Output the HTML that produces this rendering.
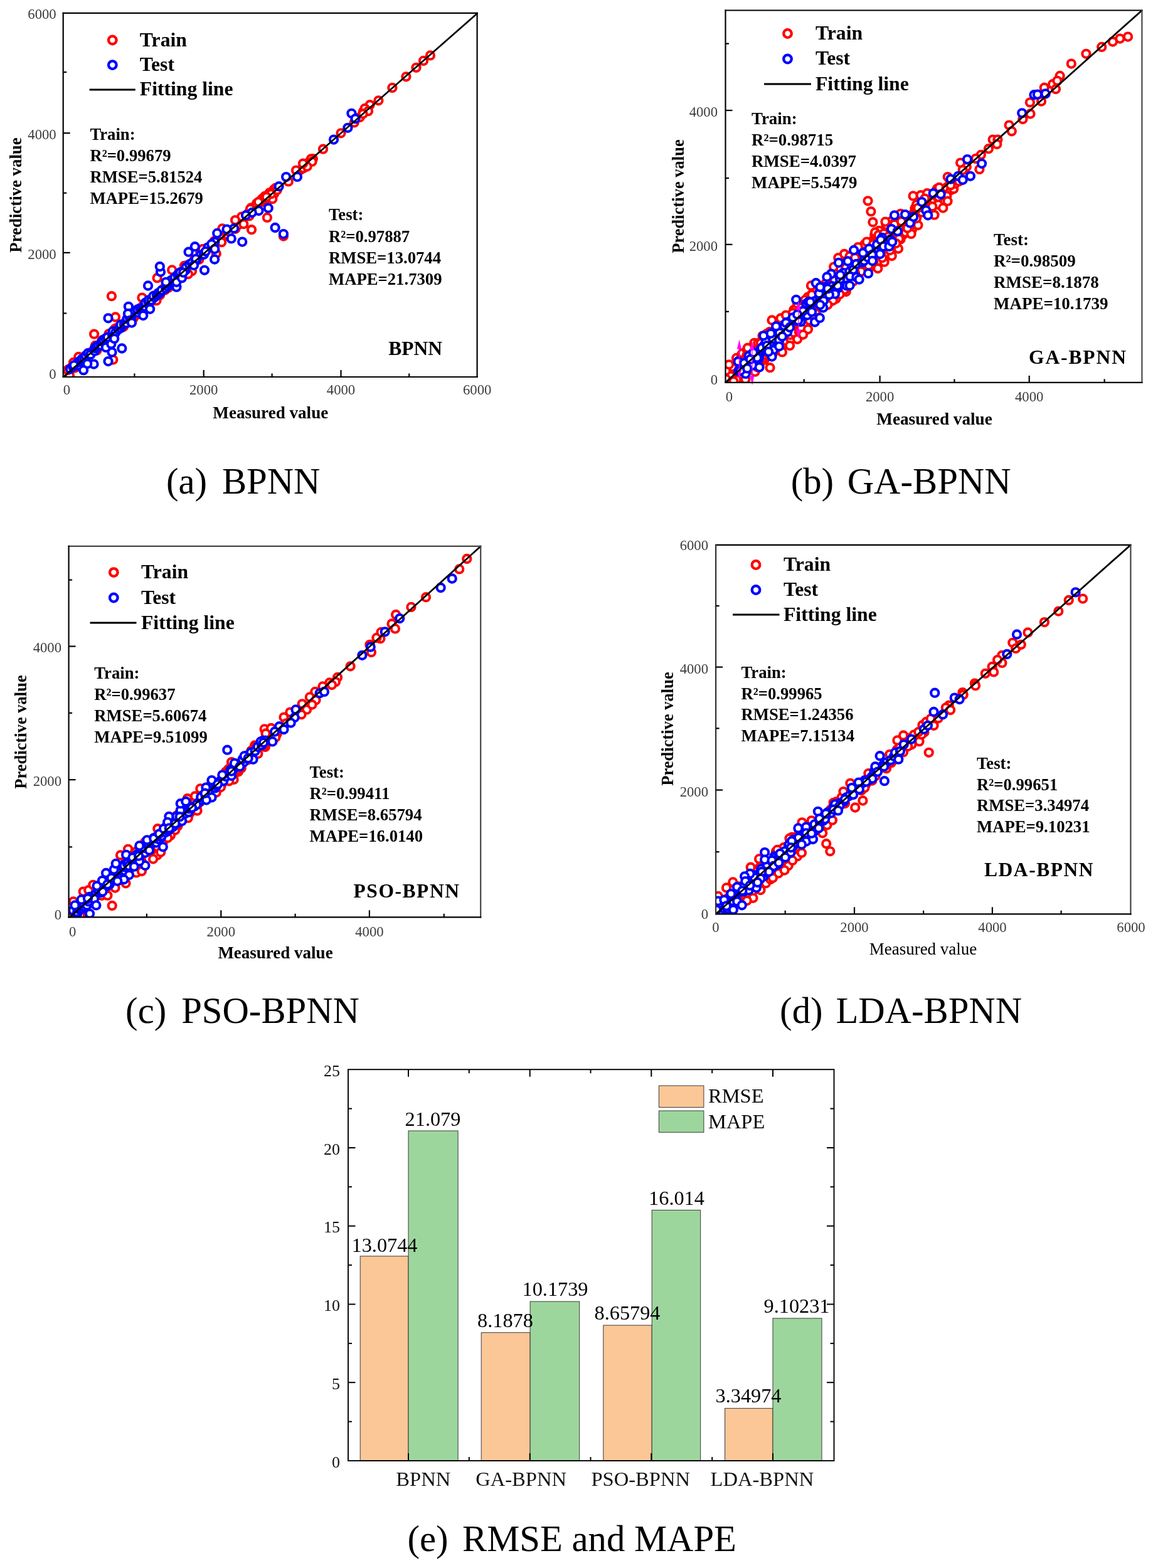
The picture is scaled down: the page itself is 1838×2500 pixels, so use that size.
<!DOCTYPE html>
<html lang="en">
<head>
<meta charset="utf-8">
<title>Prediction results of BPNN, GA-BPNN, PSO-BPNN and LDA-BPNN</title>
<style>
html,body{margin:0;padding:0;background:#fff;}
body{width:1838px;height:2500px;overflow:hidden;}
svg{display:block;}
text{white-space:pre;}
.bs{font-family:"Liberation Serif", "DejaVu Serif", serif;font-weight:bold;}
.rs{font-family:"Liberation Serif", "DejaVu Serif", serif;font-weight:normal;}
.ba{font-family:"Liberation Sans", "DejaVu Sans", sans-serif;font-weight:bold;}
.ra{font-family:"Liberation Sans", "DejaVu Sans", sans-serif;font-weight:normal;}
</style>
</head>
<body>
<svg width="1838" height="2500" viewBox="0 0 1838 2500">
<defs><filter id="soft" x="-5%" y="-5%" width="110%" height="110%"><feGaussianBlur stdDeviation="0.6"/></filter><filter id="soft2" x="-5%" y="-5%" width="110%" height="110%"><feGaussianBlur stdDeviation="0.45"/></filter></defs>
<rect x="0" y="0" width="1838" height="2500" fill="#ffffff"/>
<g id="panel-a">
<clipPath id="clip-a"><rect x="100.7" y="20.8" width="659.9" height="580.2"/></clipPath>
<g clip-path="url(#clip-a)"><g fill="#fff" stroke-width="4.1" filter="url(#soft)">
<circle cx="398.0" cy="342.6" r="6.1" stroke="#ff0000"/>
<circle cx="396.9" cy="338.6" r="6.1" stroke="#ff0000"/>
<circle cx="402.8" cy="335.5" r="6.1" stroke="#ff0000"/>
<circle cx="407.7" cy="329.9" r="6.1" stroke="#ff0000"/>
<circle cx="410.5" cy="331.9" r="6.1" stroke="#ff0000"/>
<circle cx="413.4" cy="323.5" r="6.1" stroke="#ff0000"/>
<circle cx="415.7" cy="322.0" r="6.1" stroke="#ff0000"/>
<circle cx="424.2" cy="317.1" r="6.1" stroke="#ff0000"/>
<circle cx="430.1" cy="313.6" r="6.1" stroke="#ff0000"/>
<circle cx="427.3" cy="310.7" r="6.1" stroke="#ff0000"/>
<circle cx="437.1" cy="309.1" r="6.1" stroke="#ff0000"/>
<circle cx="436.7" cy="302.1" r="6.1" stroke="#ff0000"/>
<circle cx="478.8" cy="270.9" r="6.1" stroke="#ff0000"/>
<circle cx="483.6" cy="268.2" r="6.1" stroke="#ff0000"/>
<circle cx="488.2" cy="260.8" r="6.1" stroke="#ff0000"/>
<circle cx="492.8" cy="258.4" r="6.1" stroke="#ff0000"/>
<circle cx="498.9" cy="253.2" r="6.1" stroke="#ff0000"/>
<circle cx="573.7" cy="186.9" r="6.1" stroke="#ff0000"/>
<circle cx="578.9" cy="177.9" r="6.1" stroke="#ff0000"/>
<circle cx="583.0" cy="175.9" r="6.1" stroke="#ff0000"/>
<circle cx="589.7" cy="167.2" r="6.1" stroke="#ff0000"/>
<circle cx="107.2" cy="599.3" r="6.1" stroke="#ff0000"/>
<circle cx="108.8" cy="591.5" r="6.1" stroke="#ff0000"/>
<circle cx="109.3" cy="588.8" r="6.1" stroke="#ff0000"/>
<circle cx="114.0" cy="585.8" r="6.1" stroke="#ff0000"/>
<circle cx="119.4" cy="586.6" r="6.1" stroke="#ff0000"/>
<circle cx="120.5" cy="579.5" r="6.1" stroke="#ff0000"/>
<circle cx="124.4" cy="580.1" r="6.1" stroke="#ff0000"/>
<circle cx="128.3" cy="581.7" r="6.1" stroke="#ff0000"/>
<circle cx="128.0" cy="573.8" r="6.1" stroke="#ff0000"/>
<circle cx="134.9" cy="574.4" r="6.1" stroke="#ff0000"/>
<circle cx="135.7" cy="568.1" r="6.1" stroke="#ff0000"/>
<circle cx="139.4" cy="568.3" r="6.1" stroke="#ff0000"/>
<circle cx="143.2" cy="563.5" r="6.1" stroke="#ff0000"/>
<circle cx="144.4" cy="562.4" r="6.1" stroke="#ff0000"/>
<circle cx="145.9" cy="561.3" r="6.1" stroke="#ff0000"/>
<circle cx="154.3" cy="558.7" r="6.1" stroke="#ff0000"/>
<circle cx="151.9" cy="550.9" r="6.1" stroke="#ff0000"/>
<circle cx="156.1" cy="553.5" r="6.1" stroke="#ff0000"/>
<circle cx="162.2" cy="547.0" r="6.1" stroke="#ff0000"/>
<circle cx="161.7" cy="544.5" r="6.1" stroke="#ff0000"/>
<circle cx="162.9" cy="542.5" r="6.1" stroke="#ff0000"/>
<circle cx="171.0" cy="539.1" r="6.1" stroke="#ff0000"/>
<circle cx="171.4" cy="538.0" r="6.1" stroke="#ff0000"/>
<circle cx="176.4" cy="536.9" r="6.1" stroke="#ff0000"/>
<circle cx="173.4" cy="532.3" r="6.1" stroke="#ff0000"/>
<circle cx="180.9" cy="527.4" r="6.1" stroke="#ff0000"/>
<circle cx="183.0" cy="524.5" r="6.1" stroke="#ff0000"/>
<circle cx="185.5" cy="523.2" r="6.1" stroke="#ff0000"/>
<circle cx="189.3" cy="522.4" r="6.1" stroke="#ff0000"/>
<circle cx="197.0" cy="521.1" r="6.1" stroke="#ff0000"/>
<circle cx="194.3" cy="518.0" r="6.1" stroke="#ff0000"/>
<circle cx="198.9" cy="514.6" r="6.1" stroke="#ff0000"/>
<circle cx="202.1" cy="513.4" r="6.1" stroke="#ff0000"/>
<circle cx="205.4" cy="508.6" r="6.1" stroke="#ff0000"/>
<circle cx="207.2" cy="506.2" r="6.1" stroke="#ff0000"/>
<circle cx="212.3" cy="508.0" r="6.1" stroke="#ff0000"/>
<circle cx="216.1" cy="503.0" r="6.1" stroke="#ff0000"/>
<circle cx="216.4" cy="495.4" r="6.1" stroke="#ff0000"/>
<circle cx="219.9" cy="493.1" r="6.1" stroke="#ff0000"/>
<circle cx="225.8" cy="493.6" r="6.1" stroke="#ff0000"/>
<circle cx="223.2" cy="491.5" r="6.1" stroke="#ff0000"/>
<circle cx="229.4" cy="493.0" r="6.1" stroke="#ff0000"/>
<circle cx="229.5" cy="485.0" r="6.1" stroke="#ff0000"/>
<circle cx="237.6" cy="484.8" r="6.1" stroke="#ff0000"/>
<circle cx="236.9" cy="482.9" r="6.1" stroke="#ff0000"/>
<circle cx="242.9" cy="479.6" r="6.1" stroke="#ff0000"/>
<circle cx="244.7" cy="477.9" r="6.1" stroke="#ff0000"/>
<circle cx="245.7" cy="471.3" r="6.1" stroke="#ff0000"/>
<circle cx="250.8" cy="470.9" r="6.1" stroke="#ff0000"/>
<circle cx="255.0" cy="470.4" r="6.1" stroke="#ff0000"/>
<circle cx="255.0" cy="466.2" r="6.1" stroke="#ff0000"/>
<circle cx="262.9" cy="462.6" r="6.1" stroke="#ff0000"/>
<circle cx="260.6" cy="460.3" r="6.1" stroke="#ff0000"/>
<circle cx="265.9" cy="454.7" r="6.1" stroke="#ff0000"/>
<circle cx="268.4" cy="458.7" r="6.1" stroke="#ff0000"/>
<circle cx="273.9" cy="452.6" r="6.1" stroke="#ff0000"/>
<circle cx="276.7" cy="449.9" r="6.1" stroke="#ff0000"/>
<circle cx="276.3" cy="444.8" r="6.1" stroke="#ff0000"/>
<circle cx="283.6" cy="443.2" r="6.1" stroke="#ff0000"/>
<circle cx="281.5" cy="438.9" r="6.1" stroke="#ff0000"/>
<circle cx="288.1" cy="439.2" r="6.1" stroke="#ff0000"/>
<circle cx="289.9" cy="435.8" r="6.1" stroke="#ff0000"/>
<circle cx="293.5" cy="433.4" r="6.1" stroke="#ff0000"/>
<circle cx="296.4" cy="433.7" r="6.1" stroke="#ff0000"/>
<circle cx="297.2" cy="423.3" r="6.1" stroke="#ff0000"/>
<circle cx="302.9" cy="425.8" r="6.1" stroke="#ff0000"/>
<circle cx="309.2" cy="420.2" r="6.1" stroke="#ff0000"/>
<circle cx="310.0" cy="413.8" r="6.1" stroke="#ff0000"/>
<circle cx="317.4" cy="413.8" r="6.1" stroke="#ff0000"/>
<circle cx="319.4" cy="403.7" r="6.1" stroke="#ff0000"/>
<circle cx="330.0" cy="395.2" r="6.1" stroke="#ff0000"/>
<circle cx="334.1" cy="394.9" r="6.1" stroke="#ff0000"/>
<circle cx="341.7" cy="384.3" r="6.1" stroke="#ff0000"/>
<circle cx="346.7" cy="382.0" r="6.1" stroke="#ff0000"/>
<circle cx="354.1" cy="379.9" r="6.1" stroke="#ff0000"/>
<circle cx="362.7" cy="374.6" r="6.1" stroke="#ff0000"/>
<circle cx="365.1" cy="369.5" r="6.1" stroke="#ff0000"/>
<circle cx="375.4" cy="364.8" r="6.1" stroke="#ff0000"/>
<circle cx="379.3" cy="358.8" r="6.1" stroke="#ff0000"/>
<circle cx="386.8" cy="351.8" r="6.1" stroke="#ff0000"/>
<circle cx="385.2" cy="345.6" r="6.1" stroke="#ff0000"/>
<circle cx="397.2" cy="344.4" r="6.1" stroke="#ff0000"/>
<circle cx="400.1" cy="331.4" r="6.1" stroke="#ff0000"/>
<circle cx="407.8" cy="333.2" r="6.1" stroke="#ff0000"/>
<circle cx="414.4" cy="323.0" r="6.1" stroke="#ff0000"/>
<circle cx="177.9" cy="472.2" r="6.1" stroke="#ff0000"/>
<circle cx="150.1" cy="532.7" r="6.1" stroke="#ff0000"/>
<circle cx="184.0" cy="505.5" r="6.1" stroke="#ff0000"/>
<circle cx="226.4" cy="474.6" r="6.1" stroke="#ff0000"/>
<circle cx="250.6" cy="443.2" r="6.1" stroke="#ff0000"/>
<circle cx="274.2" cy="430.4" r="6.1" stroke="#ff0000"/>
<circle cx="180.3" cy="573.6" r="6.1" stroke="#ff0000"/>
<circle cx="103.0" cy="596.0" r="6.1" stroke="#ff0000"/>
<circle cx="111.0" cy="599.0" r="6.1" stroke="#ff0000"/>
<circle cx="108.0" cy="590.0" r="6.1" stroke="#ff0000"/>
<circle cx="249.5" cy="479.2" r="6.1" stroke="#ff0000"/>
<circle cx="125.3" cy="569.0" r="6.1" stroke="#ff0000"/>
<circle cx="117.0" cy="578.0" r="6.1" stroke="#ff0000"/>
<circle cx="425.9" cy="346.9" r="6.1" stroke="#ff0000"/>
<circle cx="401.0" cy="366.2" r="6.1" stroke="#ff0000"/>
<circle cx="451.9" cy="376.5" r="6.1" stroke="#ff0000"/>
<circle cx="375.0" cy="351.1" r="6.1" stroke="#ff0000"/>
<circle cx="388.3" cy="357.2" r="6.1" stroke="#ff0000"/>
<circle cx="434.3" cy="317.2" r="6.1" stroke="#ff0000"/>
<circle cx="429.5" cy="307.5" r="6.1" stroke="#ff0000"/>
<circle cx="417.4" cy="317.2" r="6.1" stroke="#ff0000"/>
<circle cx="408.9" cy="324.5" r="6.1" stroke="#ff0000"/>
<circle cx="439.0" cy="300.0" r="6.1" stroke="#ff0000"/>
<circle cx="459.8" cy="289.4" r="6.1" stroke="#ff0000"/>
<circle cx="354.4" cy="364.4" r="6.1" stroke="#ff0000"/>
<circle cx="353.2" cy="386.2" r="6.1" stroke="#ff0000"/>
<circle cx="344.7" cy="404.4" r="6.1" stroke="#ff0000"/>
<circle cx="323.0" cy="397.1" r="6.1" stroke="#ff0000"/>
<circle cx="306.0" cy="432.2" r="6.1" stroke="#ff0000"/>
<circle cx="300.0" cy="437.0" r="6.1" stroke="#ff0000"/>
<circle cx="294.0" cy="423.8" r="6.1" stroke="#ff0000"/>
<circle cx="399.0" cy="333.0" r="6.1" stroke="#ff0000"/>
<circle cx="412.0" cy="322.0" r="6.1" stroke="#ff0000"/>
<circle cx="422.0" cy="313.0" r="6.1" stroke="#ff0000"/>
<circle cx="603.4" cy="160.3" r="6.1" stroke="#ff0000"/>
<circle cx="581.6" cy="173.0" r="6.1" stroke="#ff0000"/>
<circle cx="587.0" cy="177.2" r="6.1" stroke="#ff0000"/>
<circle cx="578.6" cy="181.5" r="6.1" stroke="#ff0000"/>
<circle cx="564.7" cy="195.4" r="6.1" stroke="#ff0000"/>
<circle cx="543.5" cy="212.3" r="6.1" stroke="#ff0000"/>
<circle cx="515.0" cy="237.7" r="6.1" stroke="#ff0000"/>
<circle cx="495.7" cy="253.5" r="6.1" stroke="#ff0000"/>
<circle cx="497.5" cy="257.7" r="6.1" stroke="#ff0000"/>
<circle cx="489.6" cy="265.6" r="6.1" stroke="#ff0000"/>
<circle cx="483.0" cy="260.7" r="6.1" stroke="#ff0000"/>
<circle cx="472.0" cy="271.6" r="6.1" stroke="#ff0000"/>
<circle cx="432.1" cy="309.2" r="6.1" stroke="#ff0000"/>
<circle cx="424.8" cy="314.0" r="6.1" stroke="#ff0000"/>
<circle cx="441.8" cy="303.0" r="6.1" stroke="#ff0000"/>
<circle cx="685.9" cy="88.4" r="6.1" stroke="#ff0000"/>
<circle cx="675.0" cy="96.9" r="6.1" stroke="#ff0000"/>
<circle cx="663.5" cy="107.8" r="6.1" stroke="#ff0000"/>
<circle cx="647.4" cy="122.3" r="6.1" stroke="#ff0000"/>
<circle cx="625.4" cy="139.9" r="6.1" stroke="#ff0000"/>
<circle cx="111.9" cy="588.3" r="6.1" stroke="#0000ff"/>
<circle cx="116.2" cy="584.8" r="6.1" stroke="#0000ff"/>
<circle cx="121.4" cy="582.9" r="6.1" stroke="#0000ff"/>
<circle cx="123.7" cy="582.6" r="6.1" stroke="#0000ff"/>
<circle cx="124.3" cy="583.0" r="6.1" stroke="#0000ff"/>
<circle cx="124.3" cy="577.5" r="6.1" stroke="#0000ff"/>
<circle cx="129.2" cy="574.2" r="6.1" stroke="#0000ff"/>
<circle cx="130.5" cy="572.6" r="6.1" stroke="#0000ff"/>
<circle cx="134.4" cy="572.5" r="6.1" stroke="#0000ff"/>
<circle cx="136.7" cy="566.9" r="6.1" stroke="#0000ff"/>
<circle cx="140.2" cy="563.2" r="6.1" stroke="#0000ff"/>
<circle cx="144.0" cy="565.3" r="6.1" stroke="#0000ff"/>
<circle cx="144.4" cy="565.2" r="6.1" stroke="#0000ff"/>
<circle cx="150.9" cy="559.7" r="6.1" stroke="#0000ff"/>
<circle cx="150.9" cy="554.9" r="6.1" stroke="#0000ff"/>
<circle cx="154.0" cy="555.2" r="6.1" stroke="#0000ff"/>
<circle cx="154.1" cy="552.2" r="6.1" stroke="#0000ff"/>
<circle cx="156.7" cy="551.3" r="6.1" stroke="#0000ff"/>
<circle cx="161.1" cy="550.7" r="6.1" stroke="#0000ff"/>
<circle cx="162.4" cy="544.2" r="6.1" stroke="#0000ff"/>
<circle cx="164.4" cy="542.2" r="6.1" stroke="#0000ff"/>
<circle cx="170.6" cy="541.0" r="6.1" stroke="#0000ff"/>
<circle cx="167.9" cy="539.7" r="6.1" stroke="#0000ff"/>
<circle cx="171.4" cy="537.7" r="6.1" stroke="#0000ff"/>
<circle cx="179.4" cy="534.4" r="6.1" stroke="#0000ff"/>
<circle cx="179.3" cy="534.9" r="6.1" stroke="#0000ff"/>
<circle cx="179.6" cy="528.4" r="6.1" stroke="#0000ff"/>
<circle cx="184.0" cy="530.4" r="6.1" stroke="#0000ff"/>
<circle cx="188.8" cy="525.3" r="6.1" stroke="#0000ff"/>
<circle cx="192.6" cy="522.9" r="6.1" stroke="#0000ff"/>
<circle cx="194.5" cy="519.3" r="6.1" stroke="#0000ff"/>
<circle cx="192.3" cy="517.7" r="6.1" stroke="#0000ff"/>
<circle cx="197.9" cy="517.2" r="6.1" stroke="#0000ff"/>
<circle cx="201.8" cy="514.8" r="6.1" stroke="#0000ff"/>
<circle cx="201.7" cy="515.3" r="6.1" stroke="#0000ff"/>
<circle cx="202.5" cy="508.3" r="6.1" stroke="#0000ff"/>
<circle cx="207.1" cy="506.9" r="6.1" stroke="#0000ff"/>
<circle cx="208.8" cy="507.2" r="6.1" stroke="#0000ff"/>
<circle cx="213.6" cy="499.0" r="6.1" stroke="#0000ff"/>
<circle cx="212.1" cy="500.0" r="6.1" stroke="#0000ff"/>
<circle cx="219.5" cy="498.5" r="6.1" stroke="#0000ff"/>
<circle cx="219.2" cy="493.6" r="6.1" stroke="#0000ff"/>
<circle cx="223.3" cy="492.0" r="6.1" stroke="#0000ff"/>
<circle cx="226.8" cy="491.8" r="6.1" stroke="#0000ff"/>
<circle cx="227.9" cy="490.5" r="6.1" stroke="#0000ff"/>
<circle cx="231.4" cy="488.9" r="6.1" stroke="#0000ff"/>
<circle cx="231.8" cy="482.6" r="6.1" stroke="#0000ff"/>
<circle cx="236.3" cy="480.8" r="6.1" stroke="#0000ff"/>
<circle cx="236.9" cy="478.4" r="6.1" stroke="#0000ff"/>
<circle cx="241.3" cy="478.7" r="6.1" stroke="#0000ff"/>
<circle cx="246.2" cy="474.3" r="6.1" stroke="#0000ff"/>
<circle cx="244.4" cy="472.1" r="6.1" stroke="#0000ff"/>
<circle cx="249.9" cy="470.9" r="6.1" stroke="#0000ff"/>
<circle cx="252.0" cy="467.5" r="6.1" stroke="#0000ff"/>
<circle cx="253.1" cy="468.8" r="6.1" stroke="#0000ff"/>
<circle cx="255.9" cy="466.3" r="6.1" stroke="#0000ff"/>
<circle cx="257.5" cy="462.8" r="6.1" stroke="#0000ff"/>
<circle cx="264.2" cy="460.1" r="6.1" stroke="#0000ff"/>
<circle cx="266.8" cy="456.4" r="6.1" stroke="#0000ff"/>
<circle cx="269.1" cy="453.1" r="6.1" stroke="#0000ff"/>
<circle cx="271.1" cy="453.5" r="6.1" stroke="#0000ff"/>
<circle cx="269.7" cy="450.5" r="6.1" stroke="#0000ff"/>
<circle cx="272.2" cy="447.2" r="6.1" stroke="#0000ff"/>
<circle cx="279.1" cy="442.4" r="6.1" stroke="#0000ff"/>
<circle cx="278.5" cy="442.5" r="6.1" stroke="#0000ff"/>
<circle cx="284.4" cy="442.2" r="6.1" stroke="#0000ff"/>
<circle cx="283.3" cy="437.7" r="6.1" stroke="#0000ff"/>
<circle cx="285.3" cy="436.1" r="6.1" stroke="#0000ff"/>
<circle cx="287.3" cy="434.2" r="6.1" stroke="#0000ff"/>
<circle cx="295.8" cy="430.7" r="6.1" stroke="#0000ff"/>
<circle cx="296.6" cy="426.3" r="6.1" stroke="#0000ff"/>
<circle cx="301.8" cy="421.5" r="6.1" stroke="#0000ff"/>
<circle cx="305.8" cy="419.2" r="6.1" stroke="#0000ff"/>
<circle cx="312.7" cy="415.2" r="6.1" stroke="#0000ff"/>
<circle cx="319.9" cy="406.6" r="6.1" stroke="#0000ff"/>
<circle cx="325.0" cy="405.8" r="6.1" stroke="#0000ff"/>
<circle cx="331.6" cy="394.4" r="6.1" stroke="#0000ff"/>
<circle cx="338.0" cy="392.0" r="6.1" stroke="#0000ff"/>
<circle cx="342.4" cy="385.7" r="6.1" stroke="#0000ff"/>
<circle cx="172.5" cy="507.3" r="6.1" stroke="#0000ff"/>
<circle cx="204.9" cy="488.8" r="6.1" stroke="#0000ff"/>
<circle cx="236.0" cy="455.5" r="6.1" stroke="#0000ff"/>
<circle cx="256.0" cy="433.5" r="6.1" stroke="#0000ff"/>
<circle cx="254.8" cy="425.0" r="6.1" stroke="#0000ff"/>
<circle cx="194.3" cy="555.5" r="6.1" stroke="#0000ff"/>
<circle cx="178.5" cy="561.6" r="6.1" stroke="#0000ff"/>
<circle cx="172.5" cy="576.1" r="6.1" stroke="#0000ff"/>
<circle cx="149.5" cy="580.6" r="6.1" stroke="#0000ff"/>
<circle cx="139.2" cy="580.0" r="6.1" stroke="#0000ff"/>
<circle cx="133.1" cy="590.3" r="6.1" stroke="#0000ff"/>
<circle cx="118.0" cy="582.4" r="6.1" stroke="#0000ff"/>
<circle cx="168.8" cy="553.9" r="6.1" stroke="#0000ff"/>
<circle cx="177.3" cy="548.5" r="6.1" stroke="#0000ff"/>
<circle cx="182.2" cy="540.0" r="6.1" stroke="#0000ff"/>
<circle cx="228.2" cy="503.1" r="6.1" stroke="#0000ff"/>
<circle cx="239.1" cy="492.8" r="6.1" stroke="#0000ff"/>
<circle cx="281.4" cy="457.7" r="6.1" stroke="#0000ff"/>
<circle cx="281.4" cy="449.8" r="6.1" stroke="#0000ff"/>
<circle cx="264.5" cy="449.8" r="6.1" stroke="#0000ff"/>
<circle cx="290.0" cy="443.2" r="6.1" stroke="#0000ff"/>
<circle cx="204.0" cy="500.0" r="6.1" stroke="#0000ff"/>
<circle cx="207.6" cy="511.0" r="6.1" stroke="#0000ff"/>
<circle cx="210.0" cy="514.6" r="6.1" stroke="#0000ff"/>
<circle cx="456.1" cy="282.1" r="6.1" stroke="#0000ff"/>
<circle cx="444.6" cy="297.2" r="6.1" stroke="#0000ff"/>
<circle cx="427.7" cy="331.7" r="6.1" stroke="#0000ff"/>
<circle cx="412.5" cy="336.0" r="6.1" stroke="#0000ff"/>
<circle cx="401.6" cy="339.0" r="6.1" stroke="#0000ff"/>
<circle cx="392.0" cy="343.2" r="6.1" stroke="#0000ff"/>
<circle cx="438.6" cy="363.0" r="6.1" stroke="#0000ff"/>
<circle cx="451.9" cy="373.1" r="6.1" stroke="#0000ff"/>
<circle cx="373.2" cy="364.2" r="6.1" stroke="#0000ff"/>
<circle cx="361.5" cy="365.6" r="6.1" stroke="#0000ff"/>
<circle cx="346.2" cy="371.9" r="6.1" stroke="#0000ff"/>
<circle cx="368.7" cy="380.4" r="6.1" stroke="#0000ff"/>
<circle cx="386.2" cy="385.6" r="6.1" stroke="#0000ff"/>
<circle cx="337.2" cy="389.2" r="6.1" stroke="#0000ff"/>
<circle cx="342.3" cy="397.1" r="6.1" stroke="#0000ff"/>
<circle cx="310.8" cy="393.2" r="6.1" stroke="#0000ff"/>
<circle cx="300.6" cy="401.7" r="6.1" stroke="#0000ff"/>
<circle cx="342.1" cy="413.5" r="6.1" stroke="#0000ff"/>
<circle cx="327.8" cy="400.8" r="6.1" stroke="#0000ff"/>
<circle cx="312.1" cy="412.9" r="6.1" stroke="#0000ff"/>
<circle cx="309.0" cy="423.1" r="6.1" stroke="#0000ff"/>
<circle cx="326.0" cy="430.8" r="6.1" stroke="#0000ff"/>
<circle cx="292.1" cy="434.6" r="6.1" stroke="#0000ff"/>
<circle cx="560.4" cy="180.8" r="6.1" stroke="#0000ff"/>
<circle cx="566.5" cy="189.3" r="6.1" stroke="#0000ff"/>
<circle cx="554.4" cy="203.8" r="6.1" stroke="#0000ff"/>
<circle cx="532.0" cy="222.6" r="6.1" stroke="#0000ff"/>
<circle cx="473.9" cy="281.9" r="6.1" stroke="#0000ff"/>
</g></g>
<line x1="100.7" y1="601.4" x2="761.2" y2="21.0" stroke="#000" stroke-width="2.8" filter="url(#soft2)"/>
<line x1="99.6" y1="20.8" x2="761.7" y2="20.8" stroke="#000" stroke-width="2.2"/>
<line x1="760.6" y1="19.7" x2="760.6" y2="602.1" stroke="#000" stroke-width="2.2"/>
<line x1="99.6" y1="601.0" x2="761.7" y2="601.0" stroke="#000" stroke-width="2.2"/>
<line x1="100.7" y1="19.7" x2="100.7" y2="602.1" stroke="#000" stroke-width="2.2"/>
<line x1="214.4" y1="601.0" x2="214.4" y2="595.5" stroke="#000" stroke-width="2.2"/>
<line x1="324.7" y1="601.0" x2="324.7" y2="590.0" stroke="#000" stroke-width="2.2"/>
<line x1="433.6" y1="601.0" x2="433.6" y2="595.5" stroke="#000" stroke-width="2.2"/>
<line x1="543.5" y1="601.0" x2="543.5" y2="590.0" stroke="#000" stroke-width="2.2"/>
<line x1="652.2" y1="601.0" x2="652.2" y2="595.5" stroke="#000" stroke-width="2.2"/>
<line x1="100.7" y1="115.0" x2="106.2" y2="115.0" stroke="#000" stroke-width="2.2"/>
<line x1="100.7" y1="212.2" x2="111.7" y2="212.2" stroke="#000" stroke-width="2.2"/>
<line x1="100.7" y1="307.7" x2="106.2" y2="307.7" stroke="#000" stroke-width="2.2"/>
<line x1="100.7" y1="402.9" x2="111.7" y2="402.9" stroke="#000" stroke-width="2.2"/>
<line x1="100.7" y1="499.5" x2="106.2" y2="499.5" stroke="#000" stroke-width="2.2"/>
<text class="rs" x="106.3" y="629.4" font-size="22.7" text-anchor="middle" fill="#3c3c3c">0</text>
<text class="rs" x="324.7" y="629.4" font-size="22.7" text-anchor="middle" fill="#3c3c3c">2000</text>
<text class="rs" x="543.5" y="629.4" font-size="22.7" text-anchor="middle" fill="#3c3c3c">4000</text>
<text class="rs" x="760.7" y="629.4" font-size="22.7" text-anchor="middle" fill="#3c3c3c">6000</text>
<text class="rs" x="89.7" y="29.8" font-size="22.7" text-anchor="end" fill="#3c3c3c">6000</text>
<text class="rs" x="89.7" y="222.0" font-size="22.7" text-anchor="end" fill="#3c3c3c">4000</text>
<text class="rs" x="89.7" y="412.7" font-size="22.7" text-anchor="end" fill="#3c3c3c">2000</text>
<text class="rs" x="89.7" y="604.0" font-size="22.7" text-anchor="end" fill="#3c3c3c">0</text>
<circle cx="179.3" cy="64" r="6.3" fill="#fff" stroke="#ff0000" stroke-width="4.3"/>
<circle cx="179.3" cy="103.6" r="6.3" fill="#fff" stroke="#0000ff" stroke-width="4.3"/>
<line x1="142.6" y1="142.9" x2="215.8" y2="142.9" stroke="#000" stroke-width="3"/>
<text class="bs" x="222.8" y="73.8" font-size="31.7">Train</text>
<text class="bs" x="222.8" y="112.8" font-size="31.7">Test</text>
<text class="bs" x="222.8" y="152.3" font-size="31.7">Fitting line</text>
<text class="bs" x="143.4" y="222.8" font-size="26.7">Train:</text>
<text class="bs" x="143.4" y="256.9" font-size="26.7">R²=0.99679</text>
<text class="bs" x="143.4" y="291.0" font-size="26.7">RMSE=5.81524</text>
<text class="bs" x="143.4" y="325.1" font-size="26.7">MAPE=15.2679</text>
<text class="bs" x="524.0" y="351.3" font-size="26.7">Test:</text>
<text class="bs" x="524.0" y="385.5" font-size="26.7">R²=0.97887</text>
<text class="bs" x="524.0" y="419.7" font-size="26.7">RMSE=13.0744</text>
<text class="bs" x="524.0" y="453.9" font-size="26.7">MAPE=21.7309</text>
<text class="bs" x="619.3" y="565.8" font-size="31.5">BPNN</text>
<text class="bs" x="431.3" y="666.9" font-size="27.1" text-anchor="middle">Measured value</text>
<text class="bs" x="0.0" y="0.0" font-size="26.8" text-anchor="middle" transform="translate(34.0,311.0) rotate(-90)">Predictive value</text>
<text class="rs" y="786.6" font-size="58.7"><tspan x="264.9">(a)</tspan> <tspan x="353.9">BPNN</tspan></text>
</g>
<g id="panel-b">
<clipPath id="clip-b"><rect x="1156.5" y="16.5" width="663.9000000000001" height="593.4"/></clipPath>
<g clip-path="url(#clip-b)"><g fill="#fff" stroke-width="4.1" filter="url(#soft)">
<circle cx="1161.7" cy="608.2" r="6.1" stroke="#ff0000"/>
<circle cx="1151.3" cy="594.7" r="6.1" stroke="#ff0000"/>
<circle cx="1163.1" cy="604.3" r="6.1" stroke="#ff0000"/>
<circle cx="1171.9" cy="612.1" r="6.1" stroke="#ff0000"/>
<circle cx="1163.7" cy="597.8" r="6.1" stroke="#ff0000"/>
<circle cx="1175.7" cy="613.0" r="6.1" stroke="#ff0000"/>
<circle cx="1179.3" cy="609.9" r="6.1" stroke="#ff0000"/>
<circle cx="1162.7" cy="595.7" r="6.1" stroke="#ff0000"/>
<circle cx="1161.2" cy="583.0" r="6.1" stroke="#ff0000"/>
<circle cx="1168.9" cy="592.1" r="6.1" stroke="#ff0000"/>
<circle cx="1179.4" cy="606.7" r="6.1" stroke="#ff0000"/>
<circle cx="1172.0" cy="595.4" r="6.1" stroke="#ff0000"/>
<circle cx="1182.2" cy="602.5" r="6.1" stroke="#ff0000"/>
<circle cx="1188.3" cy="604.8" r="6.1" stroke="#ff0000"/>
<circle cx="1181.5" cy="591.1" r="6.1" stroke="#ff0000"/>
<circle cx="1180.0" cy="588.6" r="6.1" stroke="#ff0000"/>
<circle cx="1181.9" cy="587.9" r="6.1" stroke="#ff0000"/>
<circle cx="1182.5" cy="589.4" r="6.1" stroke="#ff0000"/>
<circle cx="1174.0" cy="570.9" r="6.1" stroke="#ff0000"/>
<circle cx="1177.8" cy="575.1" r="6.1" stroke="#ff0000"/>
<circle cx="1189.6" cy="589.9" r="6.1" stroke="#ff0000"/>
<circle cx="1190.8" cy="590.1" r="6.1" stroke="#ff0000"/>
<circle cx="1182.1" cy="574.8" r="6.1" stroke="#ff0000"/>
<circle cx="1181.4" cy="571.6" r="6.1" stroke="#ff0000"/>
<circle cx="1182.1" cy="565.6" r="6.1" stroke="#ff0000"/>
<circle cx="1203.5" cy="592.7" r="6.1" stroke="#ff0000"/>
<circle cx="1184.2" cy="566.0" r="6.1" stroke="#ff0000"/>
<circle cx="1183.5" cy="563.3" r="6.1" stroke="#ff0000"/>
<circle cx="1207.6" cy="585.6" r="6.1" stroke="#ff0000"/>
<circle cx="1190.3" cy="566.9" r="6.1" stroke="#ff0000"/>
<circle cx="1208.5" cy="584.0" r="6.1" stroke="#ff0000"/>
<circle cx="1190.7" cy="557.6" r="6.1" stroke="#ff0000"/>
<circle cx="1210.0" cy="581.2" r="6.1" stroke="#ff0000"/>
<circle cx="1210.8" cy="581.3" r="6.1" stroke="#ff0000"/>
<circle cx="1196.0" cy="561.0" r="6.1" stroke="#ff0000"/>
<circle cx="1204.2" cy="565.1" r="6.1" stroke="#ff0000"/>
<circle cx="1215.6" cy="572.7" r="6.1" stroke="#ff0000"/>
<circle cx="1217.9" cy="573.5" r="6.1" stroke="#ff0000"/>
<circle cx="1218.6" cy="573.6" r="6.1" stroke="#ff0000"/>
<circle cx="1216.9" cy="570.5" r="6.1" stroke="#ff0000"/>
<circle cx="1202.4" cy="546.8" r="6.1" stroke="#ff0000"/>
<circle cx="1220.1" cy="563.2" r="6.1" stroke="#ff0000"/>
<circle cx="1221.4" cy="566.5" r="6.1" stroke="#ff0000"/>
<circle cx="1208.4" cy="547.1" r="6.1" stroke="#ff0000"/>
<circle cx="1229.3" cy="564.8" r="6.1" stroke="#ff0000"/>
<circle cx="1224.6" cy="563.5" r="6.1" stroke="#ff0000"/>
<circle cx="1212.8" cy="547.1" r="6.1" stroke="#ff0000"/>
<circle cx="1224.4" cy="559.7" r="6.1" stroke="#ff0000"/>
<circle cx="1232.9" cy="562.0" r="6.1" stroke="#ff0000"/>
<circle cx="1230.7" cy="556.7" r="6.1" stroke="#ff0000"/>
<circle cx="1228.2" cy="552.7" r="6.1" stroke="#ff0000"/>
<circle cx="1215.5" cy="535.6" r="6.1" stroke="#ff0000"/>
<circle cx="1227.8" cy="543.3" r="6.1" stroke="#ff0000"/>
<circle cx="1235.3" cy="555.5" r="6.1" stroke="#ff0000"/>
<circle cx="1222.2" cy="532.2" r="6.1" stroke="#ff0000"/>
<circle cx="1236.5" cy="551.2" r="6.1" stroke="#ff0000"/>
<circle cx="1229.4" cy="533.9" r="6.1" stroke="#ff0000"/>
<circle cx="1243.7" cy="547.3" r="6.1" stroke="#ff0000"/>
<circle cx="1227.0" cy="529.1" r="6.1" stroke="#ff0000"/>
<circle cx="1237.1" cy="542.3" r="6.1" stroke="#ff0000"/>
<circle cx="1251.5" cy="548.0" r="6.1" stroke="#ff0000"/>
<circle cx="1246.8" cy="542.5" r="6.1" stroke="#ff0000"/>
<circle cx="1248.2" cy="540.3" r="6.1" stroke="#ff0000"/>
<circle cx="1239.0" cy="532.2" r="6.1" stroke="#ff0000"/>
<circle cx="1252.3" cy="540.6" r="6.1" stroke="#ff0000"/>
<circle cx="1254.0" cy="544.3" r="6.1" stroke="#ff0000"/>
<circle cx="1246.3" cy="527.5" r="6.1" stroke="#ff0000"/>
<circle cx="1243.7" cy="527.1" r="6.1" stroke="#ff0000"/>
<circle cx="1237.4" cy="518.1" r="6.1" stroke="#ff0000"/>
<circle cx="1260.6" cy="540.9" r="6.1" stroke="#ff0000"/>
<circle cx="1250.7" cy="529.0" r="6.1" stroke="#ff0000"/>
<circle cx="1259.8" cy="533.9" r="6.1" stroke="#ff0000"/>
<circle cx="1250.6" cy="523.0" r="6.1" stroke="#ff0000"/>
<circle cx="1260.3" cy="524.5" r="6.1" stroke="#ff0000"/>
<circle cx="1245.7" cy="507.6" r="6.1" stroke="#ff0000"/>
<circle cx="1253.6" cy="514.5" r="6.1" stroke="#ff0000"/>
<circle cx="1265.7" cy="530.4" r="6.1" stroke="#ff0000"/>
<circle cx="1273.8" cy="529.0" r="6.1" stroke="#ff0000"/>
<circle cx="1259.0" cy="509.3" r="6.1" stroke="#ff0000"/>
<circle cx="1275.1" cy="527.7" r="6.1" stroke="#ff0000"/>
<circle cx="1265.8" cy="513.8" r="6.1" stroke="#ff0000"/>
<circle cx="1272.2" cy="515.9" r="6.1" stroke="#ff0000"/>
<circle cx="1277.3" cy="523.1" r="6.1" stroke="#ff0000"/>
<circle cx="1264.3" cy="502.8" r="6.1" stroke="#ff0000"/>
<circle cx="1264.8" cy="502.4" r="6.1" stroke="#ff0000"/>
<circle cx="1265.7" cy="498.9" r="6.1" stroke="#ff0000"/>
<circle cx="1276.5" cy="510.5" r="6.1" stroke="#ff0000"/>
<circle cx="1265.5" cy="493.8" r="6.1" stroke="#ff0000"/>
<circle cx="1278.0" cy="506.0" r="6.1" stroke="#ff0000"/>
<circle cx="1267.6" cy="493.7" r="6.1" stroke="#ff0000"/>
<circle cx="1273.8" cy="499.7" r="6.1" stroke="#ff0000"/>
<circle cx="1277.1" cy="498.8" r="6.1" stroke="#ff0000"/>
<circle cx="1290.6" cy="511.0" r="6.1" stroke="#ff0000"/>
<circle cx="1271.1" cy="484.3" r="6.1" stroke="#ff0000"/>
<circle cx="1276.6" cy="492.3" r="6.1" stroke="#ff0000"/>
<circle cx="1278.6" cy="490.1" r="6.1" stroke="#ff0000"/>
<circle cx="1288.1" cy="495.9" r="6.1" stroke="#ff0000"/>
<circle cx="1297.5" cy="504.6" r="6.1" stroke="#ff0000"/>
<circle cx="1299.5" cy="505.5" r="6.1" stroke="#ff0000"/>
<circle cx="1288.3" cy="493.7" r="6.1" stroke="#ff0000"/>
<circle cx="1285.6" cy="485.6" r="6.1" stroke="#ff0000"/>
<circle cx="1290.8" cy="485.0" r="6.1" stroke="#ff0000"/>
<circle cx="1296.6" cy="497.1" r="6.1" stroke="#ff0000"/>
<circle cx="1299.8" cy="492.1" r="6.1" stroke="#ff0000"/>
<circle cx="1301.2" cy="495.6" r="6.1" stroke="#ff0000"/>
<circle cx="1287.8" cy="473.6" r="6.1" stroke="#ff0000"/>
<circle cx="1301.3" cy="484.0" r="6.1" stroke="#ff0000"/>
<circle cx="1304.3" cy="486.8" r="6.1" stroke="#ff0000"/>
<circle cx="1307.7" cy="490.0" r="6.1" stroke="#ff0000"/>
<circle cx="1296.5" cy="470.6" r="6.1" stroke="#ff0000"/>
<circle cx="1293.7" cy="469.6" r="6.1" stroke="#ff0000"/>
<circle cx="1301.8" cy="476.7" r="6.1" stroke="#ff0000"/>
<circle cx="1314.6" cy="486.8" r="6.1" stroke="#ff0000"/>
<circle cx="1300.7" cy="465.4" r="6.1" stroke="#ff0000"/>
<circle cx="1305.5" cy="467.2" r="6.1" stroke="#ff0000"/>
<circle cx="1313.7" cy="480.8" r="6.1" stroke="#ff0000"/>
<circle cx="1311.3" cy="474.6" r="6.1" stroke="#ff0000"/>
<circle cx="1318.9" cy="479.2" r="6.1" stroke="#ff0000"/>
<circle cx="1310.7" cy="466.7" r="6.1" stroke="#ff0000"/>
<circle cx="1321.0" cy="472.5" r="6.1" stroke="#ff0000"/>
<circle cx="1304.6" cy="455.0" r="6.1" stroke="#ff0000"/>
<circle cx="1325.7" cy="479.9" r="6.1" stroke="#ff0000"/>
<circle cx="1307.9" cy="457.2" r="6.1" stroke="#ff0000"/>
<circle cx="1315.5" cy="458.4" r="6.1" stroke="#ff0000"/>
<circle cx="1327.4" cy="467.0" r="6.1" stroke="#ff0000"/>
<circle cx="1332.7" cy="476.3" r="6.1" stroke="#ff0000"/>
<circle cx="1323.1" cy="463.9" r="6.1" stroke="#ff0000"/>
<circle cx="1316.3" cy="451.8" r="6.1" stroke="#ff0000"/>
<circle cx="1333.3" cy="469.9" r="6.1" stroke="#ff0000"/>
<circle cx="1324.7" cy="454.0" r="6.1" stroke="#ff0000"/>
<circle cx="1326.9" cy="452.0" r="6.1" stroke="#ff0000"/>
<circle cx="1324.7" cy="444.8" r="6.1" stroke="#ff0000"/>
<circle cx="1326.3" cy="449.8" r="6.1" stroke="#ff0000"/>
<circle cx="1333.5" cy="454.4" r="6.1" stroke="#ff0000"/>
<circle cx="1348.7" cy="465.1" r="6.1" stroke="#ff0000"/>
<circle cx="1330.9" cy="444.2" r="6.1" stroke="#ff0000"/>
<circle cx="1344.9" cy="454.8" r="6.1" stroke="#ff0000"/>
<circle cx="1336.4" cy="440.1" r="6.1" stroke="#ff0000"/>
<circle cx="1341.4" cy="440.0" r="6.1" stroke="#ff0000"/>
<circle cx="1349.1" cy="444.6" r="6.1" stroke="#ff0000"/>
<circle cx="1334.5" cy="430.9" r="6.1" stroke="#ff0000"/>
<circle cx="1338.4" cy="426.0" r="6.1" stroke="#ff0000"/>
<circle cx="1359.9" cy="448.8" r="6.1" stroke="#ff0000"/>
<circle cx="1350.8" cy="431.0" r="6.1" stroke="#ff0000"/>
<circle cx="1357.6" cy="438.0" r="6.1" stroke="#ff0000"/>
<circle cx="1347.3" cy="420.8" r="6.1" stroke="#ff0000"/>
<circle cx="1346.0" cy="418.7" r="6.1" stroke="#ff0000"/>
<circle cx="1354.2" cy="426.6" r="6.1" stroke="#ff0000"/>
<circle cx="1356.9" cy="420.5" r="6.1" stroke="#ff0000"/>
<circle cx="1360.4" cy="421.6" r="6.1" stroke="#ff0000"/>
<circle cx="1374.1" cy="431.8" r="6.1" stroke="#ff0000"/>
<circle cx="1356.3" cy="407.5" r="6.1" stroke="#ff0000"/>
<circle cx="1368.8" cy="419.6" r="6.1" stroke="#ff0000"/>
<circle cx="1376.8" cy="423.8" r="6.1" stroke="#ff0000"/>
<circle cx="1362.1" cy="408.8" r="6.1" stroke="#ff0000"/>
<circle cx="1384.4" cy="429.3" r="6.1" stroke="#ff0000"/>
<circle cx="1375.6" cy="412.8" r="6.1" stroke="#ff0000"/>
<circle cx="1375.7" cy="416.0" r="6.1" stroke="#ff0000"/>
<circle cx="1369.3" cy="404.9" r="6.1" stroke="#ff0000"/>
<circle cx="1371.8" cy="403.1" r="6.1" stroke="#ff0000"/>
<circle cx="1388.4" cy="412.6" r="6.1" stroke="#ff0000"/>
<circle cx="1392.4" cy="419.2" r="6.1" stroke="#ff0000"/>
<circle cx="1387.0" cy="404.3" r="6.1" stroke="#ff0000"/>
<circle cx="1380.3" cy="393.5" r="6.1" stroke="#ff0000"/>
<circle cx="1378.4" cy="389.6" r="6.1" stroke="#ff0000"/>
<circle cx="1378.3" cy="389.5" r="6.1" stroke="#ff0000"/>
<circle cx="1401.0" cy="407.3" r="6.1" stroke="#ff0000"/>
<circle cx="1401.9" cy="402.9" r="6.1" stroke="#ff0000"/>
<circle cx="1393.8" cy="391.9" r="6.1" stroke="#ff0000"/>
<circle cx="1390.4" cy="384.2" r="6.1" stroke="#ff0000"/>
<circle cx="1405.2" cy="398.8" r="6.1" stroke="#ff0000"/>
<circle cx="1395.5" cy="379.6" r="6.1" stroke="#ff0000"/>
<circle cx="1413.6" cy="396.7" r="6.1" stroke="#ff0000"/>
<circle cx="1394.2" cy="374.3" r="6.1" stroke="#ff0000"/>
<circle cx="1404.8" cy="385.5" r="6.1" stroke="#ff0000"/>
<circle cx="1408.9" cy="383.7" r="6.1" stroke="#ff0000"/>
<circle cx="1406.8" cy="382.0" r="6.1" stroke="#ff0000"/>
<circle cx="1401.3" cy="367.9" r="6.1" stroke="#ff0000"/>
<circle cx="1419.2" cy="381.7" r="6.1" stroke="#ff0000"/>
<circle cx="1415.4" cy="376.6" r="6.1" stroke="#ff0000"/>
<circle cx="1412.0" cy="372.9" r="6.1" stroke="#ff0000"/>
<circle cx="1419.3" cy="374.4" r="6.1" stroke="#ff0000"/>
<circle cx="1412.5" cy="358.6" r="6.1" stroke="#ff0000"/>
<circle cx="1430.1" cy="378.8" r="6.1" stroke="#ff0000"/>
<circle cx="1435.5" cy="381.4" r="6.1" stroke="#ff0000"/>
<circle cx="1421.5" cy="357.9" r="6.1" stroke="#ff0000"/>
<circle cx="1429.5" cy="368.5" r="6.1" stroke="#ff0000"/>
<circle cx="1440.0" cy="374.0" r="6.1" stroke="#ff0000"/>
<circle cx="1420.6" cy="353.0" r="6.1" stroke="#ff0000"/>
<circle cx="1425.7" cy="356.1" r="6.1" stroke="#ff0000"/>
<circle cx="1443.6" cy="370.7" r="6.1" stroke="#ff0000"/>
<circle cx="1433.0" cy="354.3" r="6.1" stroke="#ff0000"/>
<circle cx="1444.8" cy="361.2" r="6.1" stroke="#ff0000"/>
<circle cx="1453.6" cy="366.4" r="6.1" stroke="#ff0000"/>
<circle cx="1453.9" cy="365.2" r="6.1" stroke="#ff0000"/>
<circle cx="1451.0" cy="361.1" r="6.1" stroke="#ff0000"/>
<circle cx="1446.6" cy="350.4" r="6.1" stroke="#ff0000"/>
<circle cx="1452.3" cy="353.4" r="6.1" stroke="#ff0000"/>
<circle cx="1448.8" cy="349.3" r="6.1" stroke="#ff0000"/>
<circle cx="1459.2" cy="348.6" r="6.1" stroke="#ff0000"/>
<circle cx="1457.0" cy="339.0" r="6.1" stroke="#ff0000"/>
<circle cx="1458.5" cy="331.9" r="6.1" stroke="#ff0000"/>
<circle cx="1460.7" cy="329.8" r="6.1" stroke="#ff0000"/>
<circle cx="1468.8" cy="325.6" r="6.1" stroke="#ff0000"/>
<circle cx="1468.5" cy="321.6" r="6.1" stroke="#ff0000"/>
<circle cx="1483.0" cy="324.4" r="6.1" stroke="#ff0000"/>
<circle cx="1488.7" cy="321.9" r="6.1" stroke="#ff0000"/>
<circle cx="1479.9" cy="311.8" r="6.1" stroke="#ff0000"/>
<circle cx="1495.2" cy="315.6" r="6.1" stroke="#ff0000"/>
<circle cx="1496.1" cy="314.2" r="6.1" stroke="#ff0000"/>
<circle cx="1493.9" cy="300.8" r="6.1" stroke="#ff0000"/>
<circle cx="1497.1" cy="299.0" r="6.1" stroke="#ff0000"/>
<circle cx="1508.8" cy="299.0" r="6.1" stroke="#ff0000"/>
<circle cx="1515.8" cy="303.1" r="6.1" stroke="#ff0000"/>
<circle cx="1514.1" cy="286.8" r="6.1" stroke="#ff0000"/>
<circle cx="1510.7" cy="282.1" r="6.1" stroke="#ff0000"/>
<circle cx="1166.9" cy="585.0" r="6.1" stroke="#ff0000"/>
<circle cx="1227.5" cy="586.2" r="6.1" stroke="#ff0000"/>
<circle cx="1191.8" cy="554.7" r="6.1" stroke="#ff0000"/>
<circle cx="1230.5" cy="510.5" r="6.1" stroke="#ff0000"/>
<circle cx="1271.1" cy="540.8" r="6.1" stroke="#ff0000"/>
<circle cx="1288.0" cy="525.0" r="6.1" stroke="#ff0000"/>
<circle cx="1280.1" cy="533.5" r="6.1" stroke="#ff0000"/>
<circle cx="1259.0" cy="551.1" r="6.1" stroke="#ff0000"/>
<circle cx="1246.9" cy="561.4" r="6.1" stroke="#ff0000"/>
<circle cx="1164.5" cy="599.5" r="6.1" stroke="#ff0000"/>
<circle cx="1174.2" cy="605.5" r="6.1" stroke="#ff0000"/>
<circle cx="1244.4" cy="507.5" r="6.1" stroke="#ff0000"/>
<circle cx="1252.9" cy="502.6" r="6.1" stroke="#ff0000"/>
<circle cx="1292.9" cy="455.4" r="6.1" stroke="#ff0000"/>
<circle cx="1294.1" cy="470.0" r="6.1" stroke="#ff0000"/>
<circle cx="1283.2" cy="478.4" r="6.1" stroke="#ff0000"/>
<circle cx="1263.8" cy="499.0" r="6.1" stroke="#ff0000"/>
<circle cx="1157.3" cy="591.0" r="6.1" stroke="#ff0000"/>
<circle cx="1162.1" cy="581.3" r="6.1" stroke="#ff0000"/>
<circle cx="1157.3" cy="604.3" r="6.1" stroke="#ff0000"/>
<circle cx="1169.4" cy="608.0" r="6.1" stroke="#ff0000"/>
<circle cx="1383.5" cy="320.3" r="6.1" stroke="#ff0000"/>
<circle cx="1388.4" cy="337.2" r="6.1" stroke="#ff0000"/>
<circle cx="1391.4" cy="354.2" r="6.1" stroke="#ff0000"/>
<circle cx="1395.0" cy="370.5" r="6.1" stroke="#ff0000"/>
<circle cx="1411.4" cy="353.6" r="6.1" stroke="#ff0000"/>
<circle cx="1455.6" cy="312.4" r="6.1" stroke="#ff0000"/>
<circle cx="1467.7" cy="311.2" r="6.1" stroke="#ff0000"/>
<circle cx="1478.0" cy="308.2" r="6.1" stroke="#ff0000"/>
<circle cx="1495.5" cy="326.3" r="6.1" stroke="#ff0000"/>
<circle cx="1489.5" cy="342.7" r="6.1" stroke="#ff0000"/>
<circle cx="1463.4" cy="359.0" r="6.1" stroke="#ff0000"/>
<circle cx="1452.5" cy="372.9" r="6.1" stroke="#ff0000"/>
<circle cx="1432.0" cy="396.5" r="6.1" stroke="#ff0000"/>
<circle cx="1421.7" cy="408.0" r="6.1" stroke="#ff0000"/>
<circle cx="1409.6" cy="417.7" r="6.1" stroke="#ff0000"/>
<circle cx="1399.3" cy="428.0" r="6.1" stroke="#ff0000"/>
<circle cx="1377.5" cy="421.4" r="6.1" stroke="#ff0000"/>
<circle cx="1381.7" cy="385.6" r="6.1" stroke="#ff0000"/>
<circle cx="1435.6" cy="340.8" r="6.1" stroke="#ff0000"/>
<circle cx="1433.2" cy="380.8" r="6.1" stroke="#ff0000"/>
<circle cx="1446.5" cy="363.8" r="6.1" stroke="#ff0000"/>
<circle cx="1336.3" cy="411.1" r="6.1" stroke="#ff0000"/>
<circle cx="1346.0" cy="405.0" r="6.1" stroke="#ff0000"/>
<circle cx="1354.5" cy="408.6" r="6.1" stroke="#ff0000"/>
<circle cx="1363.0" cy="411.1" r="6.1" stroke="#ff0000"/>
<circle cx="1367.8" cy="394.1" r="6.1" stroke="#ff0000"/>
<circle cx="1329.1" cy="425.6" r="6.1" stroke="#ff0000"/>
<circle cx="1340.0" cy="429.2" r="6.1" stroke="#ff0000"/>
<circle cx="1348.4" cy="426.8" r="6.1" stroke="#ff0000"/>
<circle cx="1358.1" cy="424.4" r="6.1" stroke="#ff0000"/>
<circle cx="1367.8" cy="420.8" r="6.1" stroke="#ff0000"/>
<circle cx="1372.6" cy="432.9" r="6.1" stroke="#ff0000"/>
<circle cx="1363.0" cy="435.3" r="6.1" stroke="#ff0000"/>
<circle cx="1392.0" cy="389.3" r="6.1" stroke="#ff0000"/>
<circle cx="1400.5" cy="374.7" r="6.1" stroke="#ff0000"/>
<circle cx="1409.0" cy="372.3" r="6.1" stroke="#ff0000"/>
<circle cx="1416.2" cy="377.2" r="6.1" stroke="#ff0000"/>
<circle cx="1425.9" cy="357.8" r="6.1" stroke="#ff0000"/>
<circle cx="1436.8" cy="353.0" r="6.1" stroke="#ff0000"/>
<circle cx="1461.0" cy="348.1" r="6.1" stroke="#ff0000"/>
<circle cx="1469.5" cy="338.4" r="6.1" stroke="#ff0000"/>
<circle cx="1481.6" cy="330.0" r="6.1" stroke="#ff0000"/>
<circle cx="1461.0" cy="326.3" r="6.1" stroke="#ff0000"/>
<circle cx="1474.3" cy="316.6" r="6.1" stroke="#ff0000"/>
<circle cx="1428.3" cy="388.1" r="6.1" stroke="#ff0000"/>
<circle cx="1418.6" cy="399.0" r="6.1" stroke="#ff0000"/>
<circle cx="1406.5" cy="411.1" r="6.1" stroke="#ff0000"/>
<circle cx="1384.7" cy="423.2" r="6.1" stroke="#ff0000"/>
<circle cx="1346.0" cy="461.9" r="6.1" stroke="#ff0000"/>
<circle cx="1338.7" cy="469.2" r="6.1" stroke="#ff0000"/>
<circle cx="1318.2" cy="457.1" r="6.1" stroke="#ff0000"/>
<circle cx="1309.7" cy="461.9" r="6.1" stroke="#ff0000"/>
<circle cx="1327.8" cy="478.9" r="6.1" stroke="#ff0000"/>
<circle cx="1319.4" cy="486.1" r="6.1" stroke="#ff0000"/>
<circle cx="1330.3" cy="447.4" r="6.1" stroke="#ff0000"/>
<circle cx="1641.9" cy="163.3" r="6.1" stroke="#ff0000"/>
<circle cx="1642.5" cy="181.5" r="6.1" stroke="#ff0000"/>
<circle cx="1630.4" cy="190.0" r="6.1" stroke="#ff0000"/>
<circle cx="1608.6" cy="199.6" r="6.1" stroke="#ff0000"/>
<circle cx="1612.8" cy="209.3" r="6.1" stroke="#ff0000"/>
<circle cx="1582.6" cy="222.6" r="6.1" stroke="#ff0000"/>
<circle cx="1590.4" cy="222.6" r="6.1" stroke="#ff0000"/>
<circle cx="1589.2" cy="229.9" r="6.1" stroke="#ff0000"/>
<circle cx="1575.9" cy="237.2" r="6.1" stroke="#ff0000"/>
<circle cx="1563.8" cy="246.9" r="6.1" stroke="#ff0000"/>
<circle cx="1555.3" cy="252.9" r="6.1" stroke="#ff0000"/>
<circle cx="1531.1" cy="259.6" r="6.1" stroke="#ff0000"/>
<circle cx="1561.4" cy="269.9" r="6.1" stroke="#ff0000"/>
<circle cx="1520.2" cy="301.3" r="6.1" stroke="#ff0000"/>
<circle cx="1509.3" cy="312.2" r="6.1" stroke="#ff0000"/>
<circle cx="1510.5" cy="320.7" r="6.1" stroke="#ff0000"/>
<circle cx="1503.3" cy="331.6" r="6.1" stroke="#ff0000"/>
<circle cx="1486.3" cy="329.2" r="6.1" stroke="#ff0000"/>
<circle cx="1522.6" cy="292.9" r="6.1" stroke="#ff0000"/>
<circle cx="1540.8" cy="266.2" r="6.1" stroke="#ff0000"/>
<circle cx="1463.3" cy="331.6" r="6.1" stroke="#ff0000"/>
<circle cx="1534.7" cy="271.1" r="6.1" stroke="#ff0000"/>
<circle cx="1528.7" cy="289.2" r="6.1" stroke="#ff0000"/>
<circle cx="1515.4" cy="295.3" r="6.1" stroke="#ff0000"/>
<circle cx="1798.0" cy="58.6" r="6.1" stroke="#ff0000"/>
<circle cx="1785.3" cy="61.6" r="6.1" stroke="#ff0000"/>
<circle cx="1773.8" cy="66.5" r="6.1" stroke="#ff0000"/>
<circle cx="1756.2" cy="74.9" r="6.1" stroke="#ff0000"/>
<circle cx="1731.4" cy="85.8" r="6.1" stroke="#ff0000"/>
<circle cx="1707.8" cy="101.6" r="6.1" stroke="#ff0000"/>
<circle cx="1689.6" cy="120.9" r="6.1" stroke="#ff0000"/>
<circle cx="1678.1" cy="134.2" r="6.1" stroke="#ff0000"/>
<circle cx="1664.8" cy="139.7" r="6.1" stroke="#ff0000"/>
<circle cx="1683.0" cy="142.1" r="6.1" stroke="#ff0000"/>
<circle cx="1660.0" cy="161.5" r="6.1" stroke="#ff0000"/>
<circle cx="1685.4" cy="128.8" r="6.1" stroke="#ff0000"/>
<circle cx="1177.1" cy="591.4" r="6.1" stroke="#0000ff"/>
<circle cx="1179.8" cy="589.0" r="6.1" stroke="#0000ff"/>
<circle cx="1183.4" cy="592.5" r="6.1" stroke="#0000ff"/>
<circle cx="1187.1" cy="591.0" r="6.1" stroke="#0000ff"/>
<circle cx="1187.5" cy="581.1" r="6.1" stroke="#0000ff"/>
<circle cx="1188.7" cy="579.7" r="6.1" stroke="#0000ff"/>
<circle cx="1196.0" cy="581.3" r="6.1" stroke="#0000ff"/>
<circle cx="1195.6" cy="567.7" r="6.1" stroke="#0000ff"/>
<circle cx="1193.6" cy="567.5" r="6.1" stroke="#0000ff"/>
<circle cx="1209.7" cy="571.8" r="6.1" stroke="#0000ff"/>
<circle cx="1207.6" cy="565.1" r="6.1" stroke="#0000ff"/>
<circle cx="1210.7" cy="565.2" r="6.1" stroke="#0000ff"/>
<circle cx="1211.5" cy="560.4" r="6.1" stroke="#0000ff"/>
<circle cx="1211.7" cy="558.4" r="6.1" stroke="#0000ff"/>
<circle cx="1217.4" cy="551.2" r="6.1" stroke="#0000ff"/>
<circle cx="1224.2" cy="556.2" r="6.1" stroke="#0000ff"/>
<circle cx="1221.0" cy="547.1" r="6.1" stroke="#0000ff"/>
<circle cx="1228.8" cy="551.9" r="6.1" stroke="#0000ff"/>
<circle cx="1227.7" cy="546.0" r="6.1" stroke="#0000ff"/>
<circle cx="1230.2" cy="535.6" r="6.1" stroke="#0000ff"/>
<circle cx="1235.4" cy="535.0" r="6.1" stroke="#0000ff"/>
<circle cx="1237.2" cy="535.0" r="6.1" stroke="#0000ff"/>
<circle cx="1241.0" cy="532.3" r="6.1" stroke="#0000ff"/>
<circle cx="1241.2" cy="523.8" r="6.1" stroke="#0000ff"/>
<circle cx="1252.4" cy="529.4" r="6.1" stroke="#0000ff"/>
<circle cx="1249.6" cy="521.4" r="6.1" stroke="#0000ff"/>
<circle cx="1250.2" cy="519.4" r="6.1" stroke="#0000ff"/>
<circle cx="1254.5" cy="513.8" r="6.1" stroke="#0000ff"/>
<circle cx="1259.1" cy="514.0" r="6.1" stroke="#0000ff"/>
<circle cx="1259.8" cy="511.9" r="6.1" stroke="#0000ff"/>
<circle cx="1261.7" cy="511.1" r="6.1" stroke="#0000ff"/>
<circle cx="1270.5" cy="511.4" r="6.1" stroke="#0000ff"/>
<circle cx="1276.6" cy="513.1" r="6.1" stroke="#0000ff"/>
<circle cx="1274.1" cy="501.8" r="6.1" stroke="#0000ff"/>
<circle cx="1282.8" cy="502.7" r="6.1" stroke="#0000ff"/>
<circle cx="1278.5" cy="497.3" r="6.1" stroke="#0000ff"/>
<circle cx="1282.6" cy="493.8" r="6.1" stroke="#0000ff"/>
<circle cx="1286.2" cy="493.3" r="6.1" stroke="#0000ff"/>
<circle cx="1285.3" cy="484.1" r="6.1" stroke="#0000ff"/>
<circle cx="1292.0" cy="484.5" r="6.1" stroke="#0000ff"/>
<circle cx="1288.7" cy="481.4" r="6.1" stroke="#0000ff"/>
<circle cx="1298.8" cy="480.2" r="6.1" stroke="#0000ff"/>
<circle cx="1304.2" cy="483.2" r="6.1" stroke="#0000ff"/>
<circle cx="1308.4" cy="483.8" r="6.1" stroke="#0000ff"/>
<circle cx="1307.5" cy="477.6" r="6.1" stroke="#0000ff"/>
<circle cx="1315.5" cy="473.2" r="6.1" stroke="#0000ff"/>
<circle cx="1313.5" cy="468.5" r="6.1" stroke="#0000ff"/>
<circle cx="1312.3" cy="460.6" r="6.1" stroke="#0000ff"/>
<circle cx="1315.3" cy="457.3" r="6.1" stroke="#0000ff"/>
<circle cx="1317.8" cy="459.1" r="6.1" stroke="#0000ff"/>
<circle cx="1326.1" cy="456.2" r="6.1" stroke="#0000ff"/>
<circle cx="1335.8" cy="459.4" r="6.1" stroke="#0000ff"/>
<circle cx="1332.6" cy="458.0" r="6.1" stroke="#0000ff"/>
<circle cx="1338.6" cy="452.5" r="6.1" stroke="#0000ff"/>
<circle cx="1339.1" cy="444.9" r="6.1" stroke="#0000ff"/>
<circle cx="1344.1" cy="435.1" r="6.1" stroke="#0000ff"/>
<circle cx="1354.2" cy="432.8" r="6.1" stroke="#0000ff"/>
<circle cx="1360.1" cy="430.1" r="6.1" stroke="#0000ff"/>
<circle cx="1365.0" cy="421.0" r="6.1" stroke="#0000ff"/>
<circle cx="1374.7" cy="418.4" r="6.1" stroke="#0000ff"/>
<circle cx="1377.5" cy="415.7" r="6.1" stroke="#0000ff"/>
<circle cx="1384.0" cy="410.7" r="6.1" stroke="#0000ff"/>
<circle cx="1393.9" cy="403.3" r="6.1" stroke="#0000ff"/>
<circle cx="1398.7" cy="395.2" r="6.1" stroke="#0000ff"/>
<circle cx="1398.0" cy="390.1" r="6.1" stroke="#0000ff"/>
<circle cx="1406.1" cy="379.0" r="6.1" stroke="#0000ff"/>
<circle cx="1419.2" cy="382.0" r="6.1" stroke="#0000ff"/>
<circle cx="1176.6" cy="576.5" r="6.1" stroke="#0000ff"/>
<circle cx="1199.6" cy="582.5" r="6.1" stroke="#0000ff"/>
<circle cx="1210.5" cy="585.6" r="6.1" stroke="#0000ff"/>
<circle cx="1188.7" cy="595.9" r="6.1" stroke="#0000ff"/>
<circle cx="1206.9" cy="570.4" r="6.1" stroke="#0000ff"/>
<circle cx="1214.2" cy="554.7" r="6.1" stroke="#0000ff"/>
<circle cx="1220.8" cy="544.4" r="6.1" stroke="#0000ff"/>
<circle cx="1217.2" cy="535.3" r="6.1" stroke="#0000ff"/>
<circle cx="1232.3" cy="540.2" r="6.1" stroke="#0000ff"/>
<circle cx="1228.7" cy="531.7" r="6.1" stroke="#0000ff"/>
<circle cx="1242.6" cy="530.5" r="6.1" stroke="#0000ff"/>
<circle cx="1237.2" cy="520.2" r="6.1" stroke="#0000ff"/>
<circle cx="1252.9" cy="514.7" r="6.1" stroke="#0000ff"/>
<circle cx="1232.9" cy="558.3" r="6.1" stroke="#0000ff"/>
<circle cx="1230.5" cy="568.6" r="6.1" stroke="#0000ff"/>
<circle cx="1242.0" cy="542.0" r="6.1" stroke="#0000ff"/>
<circle cx="1269.2" cy="477.8" r="6.1" stroke="#0000ff"/>
<circle cx="1291.6" cy="481.5" r="6.1" stroke="#0000ff"/>
<circle cx="1300.7" cy="451.2" r="6.1" stroke="#0000ff"/>
<circle cx="1305.6" cy="468.1" r="6.1" stroke="#0000ff"/>
<circle cx="1312.8" cy="479.6" r="6.1" stroke="#0000ff"/>
<circle cx="1331.0" cy="468.7" r="6.1" stroke="#0000ff"/>
<circle cx="1324.9" cy="436.7" r="6.1" stroke="#0000ff"/>
<circle cx="1339.5" cy="438.5" r="6.1" stroke="#0000ff"/>
<circle cx="1318.3" cy="441.5" r="6.1" stroke="#0000ff"/>
<circle cx="1298.9" cy="513.5" r="6.1" stroke="#0000ff"/>
<circle cx="1306.8" cy="506.9" r="6.1" stroke="#0000ff"/>
<circle cx="1286.8" cy="502.6" r="6.1" stroke="#0000ff"/>
<circle cx="1272.3" cy="511.1" r="6.1" stroke="#0000ff"/>
<circle cx="1280.1" cy="496.0" r="6.1" stroke="#0000ff"/>
<circle cx="1294.1" cy="497.2" r="6.1" stroke="#0000ff"/>
<circle cx="1335.2" cy="455.4" r="6.1" stroke="#0000ff"/>
<circle cx="1321.9" cy="470.0" r="6.1" stroke="#0000ff"/>
<circle cx="1312.2" cy="490.5" r="6.1" stroke="#0000ff"/>
<circle cx="1255.3" cy="529.3" r="6.1" stroke="#0000ff"/>
<circle cx="1263.8" cy="506.3" r="6.1" stroke="#0000ff"/>
<circle cx="1349.8" cy="455.4" r="6.1" stroke="#0000ff"/>
<circle cx="1186.3" cy="578.9" r="6.1" stroke="#0000ff"/>
<circle cx="1196.0" cy="572.9" r="6.1" stroke="#0000ff"/>
<circle cx="1200.8" cy="562.0" r="6.1" stroke="#0000ff"/>
<circle cx="1222.6" cy="551.1" r="6.1" stroke="#0000ff"/>
<circle cx="1246.9" cy="536.5" r="6.1" stroke="#0000ff"/>
<circle cx="1259.0" cy="522.0" r="6.1" stroke="#0000ff"/>
<circle cx="1271.1" cy="501.4" r="6.1" stroke="#0000ff"/>
<circle cx="1319.5" cy="460.3" r="6.1" stroke="#0000ff"/>
<circle cx="1307.4" cy="457.8" r="6.1" stroke="#0000ff"/>
<circle cx="1180.3" cy="591.0" r="6.1" stroke="#0000ff"/>
<circle cx="1191.2" cy="587.4" r="6.1" stroke="#0000ff"/>
<circle cx="1242.0" cy="552.3" r="6.1" stroke="#0000ff"/>
<circle cx="1225.1" cy="560.8" r="6.1" stroke="#0000ff"/>
<circle cx="1487.7" cy="308.2" r="6.1" stroke="#0000ff"/>
<circle cx="1469.5" cy="322.1" r="6.1" stroke="#0000ff"/>
<circle cx="1476.2" cy="335.4" r="6.1" stroke="#0000ff"/>
<circle cx="1479.2" cy="343.3" r="6.1" stroke="#0000ff"/>
<circle cx="1425.9" cy="343.3" r="6.1" stroke="#0000ff"/>
<circle cx="1442.9" cy="342.1" r="6.1" stroke="#0000ff"/>
<circle cx="1450.7" cy="355.4" r="6.1" stroke="#0000ff"/>
<circle cx="1456.2" cy="345.7" r="6.1" stroke="#0000ff"/>
<circle cx="1421.1" cy="365.1" r="6.1" stroke="#0000ff"/>
<circle cx="1430.8" cy="368.7" r="6.1" stroke="#0000ff"/>
<circle cx="1404.1" cy="382.6" r="6.1" stroke="#0000ff"/>
<circle cx="1408.4" cy="392.9" r="6.1" stroke="#0000ff"/>
<circle cx="1417.4" cy="392.9" r="6.1" stroke="#0000ff"/>
<circle cx="1422.3" cy="385.6" r="6.1" stroke="#0000ff"/>
<circle cx="1361.1" cy="399.0" r="6.1" stroke="#0000ff"/>
<circle cx="1375.7" cy="403.2" r="6.1" stroke="#0000ff"/>
<circle cx="1385.4" cy="396.5" r="6.1" stroke="#0000ff"/>
<circle cx="1390.2" cy="406.2" r="6.1" stroke="#0000ff"/>
<circle cx="1402.9" cy="405.0" r="6.1" stroke="#0000ff"/>
<circle cx="1390.8" cy="415.9" r="6.1" stroke="#0000ff"/>
<circle cx="1336.9" cy="418.9" r="6.1" stroke="#0000ff"/>
<circle cx="1351.5" cy="416.5" r="6.1" stroke="#0000ff"/>
<circle cx="1355.1" cy="440.7" r="6.1" stroke="#0000ff"/>
<circle cx="1365.4" cy="441.9" r="6.1" stroke="#0000ff"/>
<circle cx="1369.6" cy="445.6" r="6.1" stroke="#0000ff"/>
<circle cx="1384.1" cy="435.9" r="6.1" stroke="#0000ff"/>
<circle cx="1354.5" cy="455.3" r="6.1" stroke="#0000ff"/>
<circle cx="1307.3" cy="486.1" r="6.1" stroke="#0000ff"/>
<circle cx="1629.2" cy="180.3" r="6.1" stroke="#0000ff"/>
<circle cx="1648.5" cy="151.2" r="6.1" stroke="#0000ff"/>
<circle cx="1542.0" cy="254.1" r="6.1" stroke="#0000ff"/>
<circle cx="1565.0" cy="260.8" r="6.1" stroke="#0000ff"/>
<circle cx="1515.4" cy="285.6" r="6.1" stroke="#0000ff"/>
<circle cx="1527.5" cy="280.8" r="6.1" stroke="#0000ff"/>
<circle cx="1534.7" cy="286.8" r="6.1" stroke="#0000ff"/>
<circle cx="1546.9" cy="280.8" r="6.1" stroke="#0000ff"/>
<circle cx="1499.6" cy="309.8" r="6.1" stroke="#0000ff"/>
<circle cx="1653.9" cy="150.6" r="6.1" stroke="#0000ff"/>
<circle cx="1666.6" cy="149.4" r="6.1" stroke="#0000ff"/>
</g></g>
<g fill="#ff00ff" stroke="none"><rect x="1177.9" y="545.5" width="1.2" height="54.8"/><path d="M1178.5 541.5 L1182.1 556.5 L1174.9 556.5 Z"/><path d="M1178.5 604.3 L1182.1 589.3 L1174.9 589.3 Z"/></g>
<g fill="#ff00ff" stroke="none"><rect x="1198.4" y="547.8" width="1.2" height="62.2"/><path d="M1199.0 543.8 L1202.6 558.8 L1195.4 558.8 Z"/><path d="M1199.0 614.0 L1202.6 599.0 L1195.4 599.0 Z"/></g>
<g fill="#ff00ff" stroke="none"><rect x="1272.3" y="483.6" width="1.2" height="52.6"/><path d="M1272.9 479.6 L1276.5 494.6 L1269.3 494.6 Z"/><path d="M1272.9 540.2 L1276.5 525.2 L1269.3 525.2 Z"/></g>
<line x1="1156.5" y1="609.9" x2="1820.8" y2="16.2" stroke="#000" stroke-width="2.8" filter="url(#soft2)"/>
<line x1="1155.4" y1="16.5" x2="1821.5" y2="16.5" stroke="#000" stroke-width="2.2"/>
<line x1="1820.4" y1="15.4" x2="1820.4" y2="611.0" stroke="#4a4a4a" stroke-width="2.2"/>
<line x1="1155.4" y1="609.9" x2="1821.5" y2="609.9" stroke="#000" stroke-width="2.2"/>
<line x1="1156.5" y1="15.4" x2="1156.5" y2="611.0" stroke="#000" stroke-width="2.2"/>
<line x1="1281.7" y1="609.9" x2="1281.7" y2="604.4" stroke="#000" stroke-width="2.2"/>
<line x1="1402.6" y1="609.9" x2="1402.6" y2="598.9" stroke="#000" stroke-width="2.2"/>
<line x1="1521.4" y1="609.9" x2="1521.4" y2="604.4" stroke="#000" stroke-width="2.2"/>
<line x1="1640.7" y1="609.9" x2="1640.7" y2="598.9" stroke="#000" stroke-width="2.2"/>
<line x1="1760.6" y1="609.9" x2="1760.6" y2="604.4" stroke="#000" stroke-width="2.2"/>
<line x1="1156.5" y1="69.6" x2="1162.0" y2="69.6" stroke="#000" stroke-width="2.2"/>
<line x1="1156.5" y1="176.0" x2="1167.5" y2="176.0" stroke="#000" stroke-width="2.2"/>
<line x1="1156.5" y1="284.0" x2="1162.0" y2="284.0" stroke="#000" stroke-width="2.2"/>
<line x1="1156.5" y1="389.8" x2="1167.5" y2="389.8" stroke="#000" stroke-width="2.2"/>
<line x1="1156.5" y1="496.8" x2="1162.0" y2="496.8" stroke="#000" stroke-width="2.2"/>
<text class="rs" x="1162.5" y="640.0" font-size="22.7" text-anchor="middle" fill="#3c3c3c">0</text>
<text class="rs" x="1402.6" y="640.0" font-size="22.7" text-anchor="middle" fill="#3c3c3c">2000</text>
<text class="rs" x="1640.7" y="640.0" font-size="22.7" text-anchor="middle" fill="#3c3c3c">4000</text>
<text class="rs" x="1144.0" y="186.0" font-size="22.7" text-anchor="end" fill="#3c3c3c">4000</text>
<text class="rs" x="1144.0" y="400.0" font-size="22.7" text-anchor="end" fill="#3c3c3c">2000</text>
<text class="rs" x="1144.0" y="613.0" font-size="22.7" text-anchor="end" fill="#3c3c3c">0</text>
<circle cx="1255.5" cy="53.5" r="6.3" fill="#fff" stroke="#ff0000" stroke-width="4.3"/>
<circle cx="1255.5" cy="94" r="6.3" fill="#fff" stroke="#0000ff" stroke-width="4.3"/>
<line x1="1218.0" y1="134.0" x2="1293.0" y2="134.0" stroke="#000" stroke-width="3"/>
<text class="bs" x="1300.0" y="62.5" font-size="31.7">Train</text>
<text class="bs" x="1300.0" y="103.0" font-size="31.7">Test</text>
<text class="bs" x="1300.0" y="144.0" font-size="31.7">Fitting line</text>
<text class="bs" x="1198.0" y="197.5" font-size="26.9">Train:</text>
<text class="bs" x="1198.0" y="231.8" font-size="26.9">R²=0.98715</text>
<text class="bs" x="1198.0" y="266.1" font-size="26.9">RMSE=4.0397</text>
<text class="bs" x="1198.0" y="300.4" font-size="26.9">MAPE=5.5479</text>
<text class="bs" x="1584.0" y="390.5" font-size="27.0">Test:</text>
<text class="bs" x="1584.0" y="424.7" font-size="27.0">R²=0.98509</text>
<text class="bs" x="1584.0" y="458.9" font-size="27.0">RMSE=8.1878</text>
<text class="bs" x="1584.0" y="493.1" font-size="27.0">MAPE=10.1739</text>
<text class="bs" x="1640.0" y="580.0" font-size="31.5" letter-spacing="1.9">GA-BPNN</text>
<text class="bs" x="1489.5" y="677.0" font-size="27.2" text-anchor="middle">Measured value</text>
<text class="bs" x="0.0" y="0.0" font-size="26.5" text-anchor="middle" transform="translate(1090.0,313.0) rotate(-90)">Predictive value</text>
<text class="rs" y="786.6" font-size="58.7"><tspan x="1260.7">(b)</tspan> <tspan x="1350.7">GA-BPNN</tspan></text>
</g>
<g id="panel-c">
<clipPath id="clip-c"><rect x="109.6" y="870.9" width="656.6" height="591.4"/></clipPath>
<g clip-path="url(#clip-c)"><g fill="#fff" stroke-width="4.1" filter="url(#soft)">
<circle cx="120.4" cy="1462.7" r="6.1" stroke="#ff0000"/>
<circle cx="121.1" cy="1458.5" r="6.1" stroke="#ff0000"/>
<circle cx="117.5" cy="1454.9" r="6.1" stroke="#ff0000"/>
<circle cx="131.3" cy="1458.9" r="6.1" stroke="#ff0000"/>
<circle cx="127.5" cy="1455.7" r="6.1" stroke="#ff0000"/>
<circle cx="120.9" cy="1441.8" r="6.1" stroke="#ff0000"/>
<circle cx="125.3" cy="1442.2" r="6.1" stroke="#ff0000"/>
<circle cx="128.7" cy="1444.4" r="6.1" stroke="#ff0000"/>
<circle cx="134.1" cy="1439.6" r="6.1" stroke="#ff0000"/>
<circle cx="137.2" cy="1439.8" r="6.1" stroke="#ff0000"/>
<circle cx="134.4" cy="1438.3" r="6.1" stroke="#ff0000"/>
<circle cx="137.8" cy="1432.9" r="6.1" stroke="#ff0000"/>
<circle cx="143.6" cy="1440.0" r="6.1" stroke="#ff0000"/>
<circle cx="140.2" cy="1427.8" r="6.1" stroke="#ff0000"/>
<circle cx="146.2" cy="1426.4" r="6.1" stroke="#ff0000"/>
<circle cx="148.7" cy="1424.3" r="6.1" stroke="#ff0000"/>
<circle cx="154.6" cy="1427.5" r="6.1" stroke="#ff0000"/>
<circle cx="156.8" cy="1424.3" r="6.1" stroke="#ff0000"/>
<circle cx="149.4" cy="1419.2" r="6.1" stroke="#ff0000"/>
<circle cx="162.1" cy="1427.8" r="6.1" stroke="#ff0000"/>
<circle cx="154.1" cy="1412.6" r="6.1" stroke="#ff0000"/>
<circle cx="160.3" cy="1416.2" r="6.1" stroke="#ff0000"/>
<circle cx="164.5" cy="1415.6" r="6.1" stroke="#ff0000"/>
<circle cx="169.6" cy="1415.2" r="6.1" stroke="#ff0000"/>
<circle cx="170.1" cy="1408.4" r="6.1" stroke="#ff0000"/>
<circle cx="171.1" cy="1404.9" r="6.1" stroke="#ff0000"/>
<circle cx="171.3" cy="1400.1" r="6.1" stroke="#ff0000"/>
<circle cx="172.3" cy="1404.1" r="6.1" stroke="#ff0000"/>
<circle cx="175.5" cy="1396.1" r="6.1" stroke="#ff0000"/>
<circle cx="175.4" cy="1395.1" r="6.1" stroke="#ff0000"/>
<circle cx="178.5" cy="1397.4" r="6.1" stroke="#ff0000"/>
<circle cx="180.8" cy="1392.2" r="6.1" stroke="#ff0000"/>
<circle cx="188.0" cy="1400.3" r="6.1" stroke="#ff0000"/>
<circle cx="186.7" cy="1386.2" r="6.1" stroke="#ff0000"/>
<circle cx="198.3" cy="1396.3" r="6.1" stroke="#ff0000"/>
<circle cx="193.3" cy="1392.2" r="6.1" stroke="#ff0000"/>
<circle cx="199.8" cy="1389.4" r="6.1" stroke="#ff0000"/>
<circle cx="191.0" cy="1381.8" r="6.1" stroke="#ff0000"/>
<circle cx="196.7" cy="1383.6" r="6.1" stroke="#ff0000"/>
<circle cx="198.8" cy="1378.9" r="6.1" stroke="#ff0000"/>
<circle cx="201.7" cy="1371.9" r="6.1" stroke="#ff0000"/>
<circle cx="209.0" cy="1375.4" r="6.1" stroke="#ff0000"/>
<circle cx="209.7" cy="1380.1" r="6.1" stroke="#ff0000"/>
<circle cx="207.8" cy="1373.9" r="6.1" stroke="#ff0000"/>
<circle cx="217.1" cy="1376.4" r="6.1" stroke="#ff0000"/>
<circle cx="212.7" cy="1369.3" r="6.1" stroke="#ff0000"/>
<circle cx="225.6" cy="1372.9" r="6.1" stroke="#ff0000"/>
<circle cx="224.6" cy="1366.5" r="6.1" stroke="#ff0000"/>
<circle cx="216.4" cy="1358.2" r="6.1" stroke="#ff0000"/>
<circle cx="225.1" cy="1362.1" r="6.1" stroke="#ff0000"/>
<circle cx="225.2" cy="1357.1" r="6.1" stroke="#ff0000"/>
<circle cx="228.6" cy="1356.3" r="6.1" stroke="#ff0000"/>
<circle cx="225.2" cy="1349.1" r="6.1" stroke="#ff0000"/>
<circle cx="235.2" cy="1353.8" r="6.1" stroke="#ff0000"/>
<circle cx="238.1" cy="1356.4" r="6.1" stroke="#ff0000"/>
<circle cx="231.4" cy="1342.5" r="6.1" stroke="#ff0000"/>
<circle cx="237.0" cy="1349.0" r="6.1" stroke="#ff0000"/>
<circle cx="243.6" cy="1346.7" r="6.1" stroke="#ff0000"/>
<circle cx="251.2" cy="1350.4" r="6.1" stroke="#ff0000"/>
<circle cx="242.7" cy="1341.6" r="6.1" stroke="#ff0000"/>
<circle cx="246.8" cy="1338.0" r="6.1" stroke="#ff0000"/>
<circle cx="247.8" cy="1335.7" r="6.1" stroke="#ff0000"/>
<circle cx="251.4" cy="1331.8" r="6.1" stroke="#ff0000"/>
<circle cx="259.7" cy="1342.7" r="6.1" stroke="#ff0000"/>
<circle cx="257.2" cy="1327.3" r="6.1" stroke="#ff0000"/>
<circle cx="262.8" cy="1333.7" r="6.1" stroke="#ff0000"/>
<circle cx="259.8" cy="1327.2" r="6.1" stroke="#ff0000"/>
<circle cx="265.1" cy="1328.6" r="6.1" stroke="#ff0000"/>
<circle cx="268.4" cy="1325.4" r="6.1" stroke="#ff0000"/>
<circle cx="270.6" cy="1325.3" r="6.1" stroke="#ff0000"/>
<circle cx="264.9" cy="1317.8" r="6.1" stroke="#ff0000"/>
<circle cx="273.0" cy="1315.9" r="6.1" stroke="#ff0000"/>
<circle cx="276.4" cy="1319.9" r="6.1" stroke="#ff0000"/>
<circle cx="272.0" cy="1310.5" r="6.1" stroke="#ff0000"/>
<circle cx="283.4" cy="1316.9" r="6.1" stroke="#ff0000"/>
<circle cx="277.2" cy="1308.6" r="6.1" stroke="#ff0000"/>
<circle cx="285.5" cy="1311.3" r="6.1" stroke="#ff0000"/>
<circle cx="281.3" cy="1301.3" r="6.1" stroke="#ff0000"/>
<circle cx="282.0" cy="1300.1" r="6.1" stroke="#ff0000"/>
<circle cx="293.3" cy="1303.8" r="6.1" stroke="#ff0000"/>
<circle cx="287.3" cy="1294.5" r="6.1" stroke="#ff0000"/>
<circle cx="296.9" cy="1303.7" r="6.1" stroke="#ff0000"/>
<circle cx="295.3" cy="1296.9" r="6.1" stroke="#ff0000"/>
<circle cx="296.7" cy="1288.2" r="6.1" stroke="#ff0000"/>
<circle cx="302.5" cy="1296.8" r="6.1" stroke="#ff0000"/>
<circle cx="301.4" cy="1285.3" r="6.1" stroke="#ff0000"/>
<circle cx="303.6" cy="1283.3" r="6.1" stroke="#ff0000"/>
<circle cx="313.6" cy="1287.9" r="6.1" stroke="#ff0000"/>
<circle cx="310.4" cy="1277.4" r="6.1" stroke="#ff0000"/>
<circle cx="319.0" cy="1278.7" r="6.1" stroke="#ff0000"/>
<circle cx="321.7" cy="1274.7" r="6.1" stroke="#ff0000"/>
<circle cx="319.1" cy="1267.0" r="6.1" stroke="#ff0000"/>
<circle cx="335.3" cy="1270.9" r="6.1" stroke="#ff0000"/>
<circle cx="330.2" cy="1257.8" r="6.1" stroke="#ff0000"/>
<circle cx="338.0" cy="1259.7" r="6.1" stroke="#ff0000"/>
<circle cx="333.3" cy="1254.0" r="6.1" stroke="#ff0000"/>
<circle cx="341.4" cy="1250.4" r="6.1" stroke="#ff0000"/>
<circle cx="344.3" cy="1249.5" r="6.1" stroke="#ff0000"/>
<circle cx="350.7" cy="1251.2" r="6.1" stroke="#ff0000"/>
<circle cx="353.7" cy="1249.8" r="6.1" stroke="#ff0000"/>
<circle cx="354.5" cy="1241.7" r="6.1" stroke="#ff0000"/>
<circle cx="354.7" cy="1237.1" r="6.1" stroke="#ff0000"/>
<circle cx="360.1" cy="1230.3" r="6.1" stroke="#ff0000"/>
<circle cx="364.3" cy="1226.1" r="6.1" stroke="#ff0000"/>
<circle cx="366.7" cy="1224.5" r="6.1" stroke="#ff0000"/>
<circle cx="379.8" cy="1230.5" r="6.1" stroke="#ff0000"/>
<circle cx="379.7" cy="1227.4" r="6.1" stroke="#ff0000"/>
<circle cx="379.3" cy="1217.8" r="6.1" stroke="#ff0000"/>
<circle cx="387.2" cy="1215.8" r="6.1" stroke="#ff0000"/>
<circle cx="386.0" cy="1212.8" r="6.1" stroke="#ff0000"/>
<circle cx="395.4" cy="1211.6" r="6.1" stroke="#ff0000"/>
<circle cx="396.3" cy="1206.2" r="6.1" stroke="#ff0000"/>
<circle cx="398.5" cy="1206.8" r="6.1" stroke="#ff0000"/>
<circle cx="402.9" cy="1199.1" r="6.1" stroke="#ff0000"/>
<circle cx="409.9" cy="1200.1" r="6.1" stroke="#ff0000"/>
<circle cx="406.0" cy="1188.5" r="6.1" stroke="#ff0000"/>
<circle cx="406.9" cy="1189.7" r="6.1" stroke="#ff0000"/>
<circle cx="416.2" cy="1185.2" r="6.1" stroke="#ff0000"/>
<circle cx="422.8" cy="1190.9" r="6.1" stroke="#ff0000"/>
<circle cx="425.3" cy="1184.3" r="6.1" stroke="#ff0000"/>
<circle cx="427.0" cy="1179.6" r="6.1" stroke="#ff0000"/>
<circle cx="424.8" cy="1174.4" r="6.1" stroke="#ff0000"/>
<circle cx="436.1" cy="1178.8" r="6.1" stroke="#ff0000"/>
<circle cx="438.7" cy="1175.1" r="6.1" stroke="#ff0000"/>
<circle cx="178.7" cy="1444.0" r="6.1" stroke="#ff0000"/>
<circle cx="204.1" cy="1353.8" r="6.1" stroke="#ff0000"/>
<circle cx="116.9" cy="1437.4" r="6.1" stroke="#ff0000"/>
<circle cx="132.7" cy="1421.6" r="6.1" stroke="#ff0000"/>
<circle cx="141.2" cy="1419.2" r="6.1" stroke="#ff0000"/>
<circle cx="250.7" cy="1363.5" r="6.1" stroke="#ff0000"/>
<circle cx="244.1" cy="1369.6" r="6.1" stroke="#ff0000"/>
<circle cx="217.4" cy="1391.4" r="6.1" stroke="#ff0000"/>
<circle cx="200.5" cy="1408.3" r="6.1" stroke="#ff0000"/>
<circle cx="183.5" cy="1415.6" r="6.1" stroke="#ff0000"/>
<circle cx="171.4" cy="1427.7" r="6.1" stroke="#ff0000"/>
<circle cx="279.2" cy="1323.6" r="6.1" stroke="#ff0000"/>
<circle cx="271.9" cy="1332.1" r="6.1" stroke="#ff0000"/>
<circle cx="251.3" cy="1321.2" r="6.1" stroke="#ff0000"/>
<circle cx="127.8" cy="1459.2" r="6.1" stroke="#ff0000"/>
<circle cx="256.2" cy="1358.7" r="6.1" stroke="#ff0000"/>
<circle cx="192.0" cy="1363.5" r="6.1" stroke="#ff0000"/>
<circle cx="225.9" cy="1389.0" r="6.1" stroke="#ff0000"/>
<circle cx="148.4" cy="1410.8" r="6.1" stroke="#ff0000"/>
<circle cx="296.1" cy="1287.3" r="6.1" stroke="#ff0000"/>
<circle cx="299.8" cy="1304.2" r="6.1" stroke="#ff0000"/>
<circle cx="421.6" cy="1162.4" r="6.1" stroke="#ff0000"/>
<circle cx="452.5" cy="1143.6" r="6.1" stroke="#ff0000"/>
<circle cx="400.4" cy="1196.9" r="6.1" stroke="#ff0000"/>
<circle cx="411.3" cy="1201.7" r="6.1" stroke="#ff0000"/>
<circle cx="421.0" cy="1188.4" r="6.1" stroke="#ff0000"/>
<circle cx="369.0" cy="1215.1" r="6.1" stroke="#ff0000"/>
<circle cx="372.6" cy="1242.9" r="6.1" stroke="#ff0000"/>
<circle cx="365.3" cy="1245.3" r="6.1" stroke="#ff0000"/>
<circle cx="352.0" cy="1255.0" r="6.1" stroke="#ff0000"/>
<circle cx="344.7" cy="1263.5" r="6.1" stroke="#ff0000"/>
<circle cx="319.3" cy="1257.4" r="6.1" stroke="#ff0000"/>
<circle cx="310.8" cy="1269.5" r="6.1" stroke="#ff0000"/>
<circle cx="314.5" cy="1292.5" r="6.1" stroke="#ff0000"/>
<circle cx="267.3" cy="1336.1" r="6.1" stroke="#ff0000"/>
<circle cx="384.7" cy="1224.7" r="6.1" stroke="#ff0000"/>
<circle cx="441.6" cy="1170.3" r="6.1" stroke="#ff0000"/>
<circle cx="298.7" cy="1273.2" r="6.1" stroke="#ff0000"/>
<circle cx="456.1" cy="1153.3" r="6.1" stroke="#ff0000"/>
<circle cx="606.4" cy="1018.2" r="6.1" stroke="#ff0000"/>
<circle cx="600.4" cy="1016.9" r="6.1" stroke="#ff0000"/>
<circle cx="589.5" cy="1027.8" r="6.1" stroke="#ff0000"/>
<circle cx="591.9" cy="1040.0" r="6.1" stroke="#ff0000"/>
<circle cx="558.6" cy="1062.3" r="6.1" stroke="#ff0000"/>
<circle cx="538.0" cy="1079.9" r="6.1" stroke="#ff0000"/>
<circle cx="535.0" cy="1087.2" r="6.1" stroke="#ff0000"/>
<circle cx="525.3" cy="1088.4" r="6.1" stroke="#ff0000"/>
<circle cx="529.0" cy="1092.0" r="6.1" stroke="#ff0000"/>
<circle cx="514.4" cy="1094.4" r="6.1" stroke="#ff0000"/>
<circle cx="502.3" cy="1102.9" r="6.1" stroke="#ff0000"/>
<circle cx="493.8" cy="1111.4" r="6.1" stroke="#ff0000"/>
<circle cx="503.5" cy="1116.2" r="6.1" stroke="#ff0000"/>
<circle cx="481.7" cy="1122.3" r="6.1" stroke="#ff0000"/>
<circle cx="489.0" cy="1131.4" r="6.1" stroke="#ff0000"/>
<circle cx="497.5" cy="1123.5" r="6.1" stroke="#ff0000"/>
<circle cx="480.5" cy="1139.2" r="6.1" stroke="#ff0000"/>
<circle cx="462.4" cy="1135.6" r="6.1" stroke="#ff0000"/>
<circle cx="432.1" cy="1161.0" r="6.1" stroke="#ff0000"/>
<circle cx="423.6" cy="1169.5" r="6.1" stroke="#ff0000"/>
<circle cx="439.4" cy="1175.5" r="6.1" stroke="#ff0000"/>
<circle cx="744.3" cy="891.0" r="6.1" stroke="#ff0000"/>
<circle cx="732.2" cy="907.4" r="6.1" stroke="#ff0000"/>
<circle cx="679.0" cy="952.2" r="6.1" stroke="#ff0000"/>
<circle cx="655.4" cy="967.9" r="6.1" stroke="#ff0000"/>
<circle cx="631.1" cy="980.0" r="6.1" stroke="#ff0000"/>
<circle cx="624.5" cy="994.5" r="6.1" stroke="#ff0000"/>
<circle cx="629.9" cy="1002.4" r="6.1" stroke="#ff0000"/>
<circle cx="607.5" cy="1007.9" r="6.1" stroke="#ff0000"/>
<circle cx="116.4" cy="1451.5" r="6.1" stroke="#0000ff"/>
<circle cx="123.2" cy="1457.3" r="6.1" stroke="#0000ff"/>
<circle cx="123.2" cy="1454.2" r="6.1" stroke="#0000ff"/>
<circle cx="126.9" cy="1450.4" r="6.1" stroke="#0000ff"/>
<circle cx="126.4" cy="1447.7" r="6.1" stroke="#0000ff"/>
<circle cx="131.3" cy="1448.6" r="6.1" stroke="#0000ff"/>
<circle cx="135.2" cy="1446.0" r="6.1" stroke="#0000ff"/>
<circle cx="132.8" cy="1440.1" r="6.1" stroke="#0000ff"/>
<circle cx="138.6" cy="1443.5" r="6.1" stroke="#0000ff"/>
<circle cx="140.9" cy="1437.4" r="6.1" stroke="#0000ff"/>
<circle cx="139.6" cy="1433.1" r="6.1" stroke="#0000ff"/>
<circle cx="142.9" cy="1429.9" r="6.1" stroke="#0000ff"/>
<circle cx="146.7" cy="1431.4" r="6.1" stroke="#0000ff"/>
<circle cx="150.1" cy="1427.5" r="6.1" stroke="#0000ff"/>
<circle cx="153.0" cy="1425.9" r="6.1" stroke="#0000ff"/>
<circle cx="153.1" cy="1425.2" r="6.1" stroke="#0000ff"/>
<circle cx="157.0" cy="1420.7" r="6.1" stroke="#0000ff"/>
<circle cx="161.3" cy="1423.1" r="6.1" stroke="#0000ff"/>
<circle cx="163.4" cy="1416.4" r="6.1" stroke="#0000ff"/>
<circle cx="160.1" cy="1412.5" r="6.1" stroke="#0000ff"/>
<circle cx="164.6" cy="1409.0" r="6.1" stroke="#0000ff"/>
<circle cx="169.8" cy="1412.8" r="6.1" stroke="#0000ff"/>
<circle cx="174.7" cy="1410.3" r="6.1" stroke="#0000ff"/>
<circle cx="173.8" cy="1403.8" r="6.1" stroke="#0000ff"/>
<circle cx="174.4" cy="1401.6" r="6.1" stroke="#0000ff"/>
<circle cx="176.7" cy="1400.3" r="6.1" stroke="#0000ff"/>
<circle cx="183.5" cy="1402.7" r="6.1" stroke="#0000ff"/>
<circle cx="184.5" cy="1403.0" r="6.1" stroke="#0000ff"/>
<circle cx="181.3" cy="1395.5" r="6.1" stroke="#0000ff"/>
<circle cx="188.6" cy="1398.2" r="6.1" stroke="#0000ff"/>
<circle cx="186.0" cy="1389.9" r="6.1" stroke="#0000ff"/>
<circle cx="197.1" cy="1391.4" r="6.1" stroke="#0000ff"/>
<circle cx="198.9" cy="1388.5" r="6.1" stroke="#0000ff"/>
<circle cx="197.5" cy="1382.3" r="6.1" stroke="#0000ff"/>
<circle cx="196.9" cy="1379.1" r="6.1" stroke="#0000ff"/>
<circle cx="197.9" cy="1380.2" r="6.1" stroke="#0000ff"/>
<circle cx="202.7" cy="1376.4" r="6.1" stroke="#0000ff"/>
<circle cx="203.6" cy="1376.2" r="6.1" stroke="#0000ff"/>
<circle cx="209.5" cy="1370.5" r="6.1" stroke="#0000ff"/>
<circle cx="213.8" cy="1375.9" r="6.1" stroke="#0000ff"/>
<circle cx="215.0" cy="1367.9" r="6.1" stroke="#0000ff"/>
<circle cx="216.7" cy="1370.8" r="6.1" stroke="#0000ff"/>
<circle cx="221.0" cy="1366.8" r="6.1" stroke="#0000ff"/>
<circle cx="219.0" cy="1361.8" r="6.1" stroke="#0000ff"/>
<circle cx="224.0" cy="1362.5" r="6.1" stroke="#0000ff"/>
<circle cx="226.6" cy="1360.3" r="6.1" stroke="#0000ff"/>
<circle cx="231.2" cy="1359.8" r="6.1" stroke="#0000ff"/>
<circle cx="227.2" cy="1351.4" r="6.1" stroke="#0000ff"/>
<circle cx="230.0" cy="1351.9" r="6.1" stroke="#0000ff"/>
<circle cx="235.5" cy="1347.8" r="6.1" stroke="#0000ff"/>
<circle cx="236.9" cy="1346.7" r="6.1" stroke="#0000ff"/>
<circle cx="241.1" cy="1345.4" r="6.1" stroke="#0000ff"/>
<circle cx="238.6" cy="1342.2" r="6.1" stroke="#0000ff"/>
<circle cx="249.0" cy="1343.6" r="6.1" stroke="#0000ff"/>
<circle cx="244.9" cy="1336.2" r="6.1" stroke="#0000ff"/>
<circle cx="251.4" cy="1336.8" r="6.1" stroke="#0000ff"/>
<circle cx="253.5" cy="1338.3" r="6.1" stroke="#0000ff"/>
<circle cx="257.2" cy="1334.8" r="6.1" stroke="#0000ff"/>
<circle cx="257.2" cy="1333.2" r="6.1" stroke="#0000ff"/>
<circle cx="260.3" cy="1325.3" r="6.1" stroke="#0000ff"/>
<circle cx="264.3" cy="1327.1" r="6.1" stroke="#0000ff"/>
<circle cx="266.6" cy="1323.4" r="6.1" stroke="#0000ff"/>
<circle cx="265.2" cy="1322.4" r="6.1" stroke="#0000ff"/>
<circle cx="269.0" cy="1323.9" r="6.1" stroke="#0000ff"/>
<circle cx="271.2" cy="1318.3" r="6.1" stroke="#0000ff"/>
<circle cx="275.6" cy="1318.5" r="6.1" stroke="#0000ff"/>
<circle cx="278.8" cy="1313.6" r="6.1" stroke="#0000ff"/>
<circle cx="283.4" cy="1311.9" r="6.1" stroke="#0000ff"/>
<circle cx="281.8" cy="1308.8" r="6.1" stroke="#0000ff"/>
<circle cx="285.3" cy="1305.8" r="6.1" stroke="#0000ff"/>
<circle cx="284.1" cy="1302.1" r="6.1" stroke="#0000ff"/>
<circle cx="289.5" cy="1301.8" r="6.1" stroke="#0000ff"/>
<circle cx="288.0" cy="1298.1" r="6.1" stroke="#0000ff"/>
<circle cx="293.7" cy="1294.6" r="6.1" stroke="#0000ff"/>
<circle cx="294.6" cy="1297.4" r="6.1" stroke="#0000ff"/>
<circle cx="300.7" cy="1295.0" r="6.1" stroke="#0000ff"/>
<circle cx="301.3" cy="1289.4" r="6.1" stroke="#0000ff"/>
<circle cx="302.4" cy="1287.0" r="6.1" stroke="#0000ff"/>
<circle cx="310.2" cy="1285.4" r="6.1" stroke="#0000ff"/>
<circle cx="317.2" cy="1279.1" r="6.1" stroke="#0000ff"/>
<circle cx="320.3" cy="1270.8" r="6.1" stroke="#0000ff"/>
<circle cx="327.6" cy="1269.1" r="6.1" stroke="#0000ff"/>
<circle cx="330.4" cy="1266.1" r="6.1" stroke="#0000ff"/>
<circle cx="332.2" cy="1261.1" r="6.1" stroke="#0000ff"/>
<circle cx="343.1" cy="1256.4" r="6.1" stroke="#0000ff"/>
<circle cx="345.2" cy="1252.9" r="6.1" stroke="#0000ff"/>
<circle cx="350.5" cy="1245.8" r="6.1" stroke="#0000ff"/>
<circle cx="356.2" cy="1245.3" r="6.1" stroke="#0000ff"/>
<circle cx="360.2" cy="1238.2" r="6.1" stroke="#0000ff"/>
<circle cx="366.5" cy="1234.3" r="6.1" stroke="#0000ff"/>
<circle cx="367.7" cy="1227.3" r="6.1" stroke="#0000ff"/>
<circle cx="373.1" cy="1225.7" r="6.1" stroke="#0000ff"/>
<circle cx="381.6" cy="1220.2" r="6.1" stroke="#0000ff"/>
<circle cx="388.3" cy="1215.5" r="6.1" stroke="#0000ff"/>
<circle cx="386.6" cy="1210.6" r="6.1" stroke="#0000ff"/>
<circle cx="392.7" cy="1204.8" r="6.1" stroke="#0000ff"/>
<circle cx="400.1" cy="1199.5" r="6.1" stroke="#0000ff"/>
<circle cx="406.6" cy="1197.4" r="6.1" stroke="#0000ff"/>
<circle cx="410.7" cy="1190.8" r="6.1" stroke="#0000ff"/>
<circle cx="417.1" cy="1188.2" r="6.1" stroke="#0000ff"/>
<circle cx="418.9" cy="1180.9" r="6.1" stroke="#0000ff"/>
<circle cx="423.1" cy="1180.6" r="6.1" stroke="#0000ff"/>
<circle cx="129.7" cy="1434.4" r="6.1" stroke="#0000ff"/>
<circle cx="150.2" cy="1433.1" r="6.1" stroke="#0000ff"/>
<circle cx="154.5" cy="1412.6" r="6.1" stroke="#0000ff"/>
<circle cx="163.0" cy="1404.1" r="6.1" stroke="#0000ff"/>
<circle cx="169.0" cy="1392.0" r="6.1" stroke="#0000ff"/>
<circle cx="181.7" cy="1386.5" r="6.1" stroke="#0000ff"/>
<circle cx="184.7" cy="1376.9" r="6.1" stroke="#0000ff"/>
<circle cx="201.1" cy="1362.9" r="6.1" stroke="#0000ff"/>
<circle cx="211.4" cy="1367.2" r="6.1" stroke="#0000ff"/>
<circle cx="205.3" cy="1380.5" r="6.1" stroke="#0000ff"/>
<circle cx="222.3" cy="1348.4" r="6.1" stroke="#0000ff"/>
<circle cx="234.4" cy="1339.3" r="6.1" stroke="#0000ff"/>
<circle cx="238.0" cy="1355.7" r="6.1" stroke="#0000ff"/>
<circle cx="259.8" cy="1350.2" r="6.1" stroke="#0000ff"/>
<circle cx="231.4" cy="1379.9" r="6.1" stroke="#0000ff"/>
<circle cx="205.9" cy="1395.0" r="6.1" stroke="#0000ff"/>
<circle cx="197.5" cy="1402.3" r="6.1" stroke="#0000ff"/>
<circle cx="163.6" cy="1421.6" r="6.1" stroke="#0000ff"/>
<circle cx="153.3" cy="1443.4" r="6.1" stroke="#0000ff"/>
<circle cx="143.0" cy="1456.8" r="6.1" stroke="#0000ff"/>
<circle cx="269.5" cy="1301.8" r="6.1" stroke="#0000ff"/>
<circle cx="267.1" cy="1310.9" r="6.1" stroke="#0000ff"/>
<circle cx="287.7" cy="1292.1" r="6.1" stroke="#0000ff"/>
<circle cx="287.7" cy="1281.2" r="6.1" stroke="#0000ff"/>
<circle cx="290.1" cy="1309.1" r="6.1" stroke="#0000ff"/>
<circle cx="222.3" cy="1373.2" r="6.1" stroke="#0000ff"/>
<circle cx="213.8" cy="1381.7" r="6.1" stroke="#0000ff"/>
<circle cx="140.0" cy="1432.5" r="6.1" stroke="#0000ff"/>
<circle cx="123.0" cy="1447.7" r="6.1" stroke="#0000ff"/>
<circle cx="177.5" cy="1399.9" r="6.1" stroke="#0000ff"/>
<circle cx="171.4" cy="1410.1" r="6.1" stroke="#0000ff"/>
<circle cx="245.3" cy="1336.9" r="6.1" stroke="#0000ff"/>
<circle cx="253.8" cy="1329.6" r="6.1" stroke="#0000ff"/>
<circle cx="261.0" cy="1321.2" r="6.1" stroke="#0000ff"/>
<circle cx="281.6" cy="1301.8" r="6.1" stroke="#0000ff"/>
<circle cx="119.4" cy="1443.4" r="6.1" stroke="#0000ff"/>
<circle cx="187.2" cy="1404.7" r="6.1" stroke="#0000ff"/>
<circle cx="221.1" cy="1364.7" r="6.1" stroke="#0000ff"/>
<circle cx="362.3" cy="1195.7" r="6.1" stroke="#0000ff"/>
<circle cx="415.6" cy="1182.4" r="6.1" stroke="#0000ff"/>
<circle cx="434.3" cy="1182.4" r="6.1" stroke="#0000ff"/>
<circle cx="445.2" cy="1158.2" r="6.1" stroke="#0000ff"/>
<circle cx="452.5" cy="1163.0" r="6.1" stroke="#0000ff"/>
<circle cx="438.0" cy="1166.6" r="6.1" stroke="#0000ff"/>
<circle cx="389.5" cy="1205.4" r="6.1" stroke="#0000ff"/>
<circle cx="403.5" cy="1210.8" r="6.1" stroke="#0000ff"/>
<circle cx="395.6" cy="1209.0" r="6.1" stroke="#0000ff"/>
<circle cx="373.8" cy="1216.9" r="6.1" stroke="#0000ff"/>
<circle cx="382.3" cy="1222.3" r="6.1" stroke="#0000ff"/>
<circle cx="354.4" cy="1235.6" r="6.1" stroke="#0000ff"/>
<circle cx="369.0" cy="1236.9" r="6.1" stroke="#0000ff"/>
<circle cx="337.5" cy="1244.1" r="6.1" stroke="#0000ff"/>
<circle cx="347.2" cy="1250.2" r="6.1" stroke="#0000ff"/>
<circle cx="328.4" cy="1255.6" r="6.1" stroke="#0000ff"/>
<circle cx="337.5" cy="1271.4" r="6.1" stroke="#0000ff"/>
<circle cx="329.0" cy="1275.6" r="6.1" stroke="#0000ff"/>
<circle cx="326.6" cy="1264.7" r="6.1" stroke="#0000ff"/>
<circle cx="296.3" cy="1278.0" r="6.1" stroke="#0000ff"/>
<circle cx="313.3" cy="1282.9" r="6.1" stroke="#0000ff"/>
<circle cx="306.0" cy="1287.7" r="6.1" stroke="#0000ff"/>
<circle cx="286.6" cy="1302.2" r="6.1" stroke="#0000ff"/>
<circle cx="269.7" cy="1320.4" r="6.1" stroke="#0000ff"/>
<circle cx="279.4" cy="1313.1" r="6.1" stroke="#0000ff"/>
<circle cx="369.0" cy="1229.6" r="6.1" stroke="#0000ff"/>
<circle cx="613.7" cy="1007.3" r="6.1" stroke="#0000ff"/>
<circle cx="590.7" cy="1031.5" r="6.1" stroke="#0000ff"/>
<circle cx="577.4" cy="1044.8" r="6.1" stroke="#0000ff"/>
<circle cx="509.6" cy="1105.3" r="6.1" stroke="#0000ff"/>
<circle cx="516.9" cy="1102.9" r="6.1" stroke="#0000ff"/>
<circle cx="471.5" cy="1131.4" r="6.1" stroke="#0000ff"/>
<circle cx="469.6" cy="1144.1" r="6.1" stroke="#0000ff"/>
<circle cx="463.6" cy="1152.5" r="6.1" stroke="#0000ff"/>
<circle cx="420.0" cy="1184.0" r="6.1" stroke="#0000ff"/>
<circle cx="720.7" cy="922.5" r="6.1" stroke="#0000ff"/>
<circle cx="702.6" cy="937.0" r="6.1" stroke="#0000ff"/>
<circle cx="637.2" cy="986.1" r="6.1" stroke="#0000ff"/>
</g></g>
<line x1="111.5" y1="1462.3" x2="766.8" y2="870.5" stroke="#000" stroke-width="2.8" filter="url(#soft2)"/>
<line x1="108.5" y1="870.9" x2="767.3" y2="870.9" stroke="#444" stroke-width="2.2"/>
<line x1="766.2" y1="869.8" x2="766.2" y2="1463.4" stroke="#444" stroke-width="2.2"/>
<line x1="108.5" y1="1462.3" x2="767.3" y2="1462.3" stroke="#000" stroke-width="2.2"/>
<line x1="109.6" y1="869.8" x2="109.6" y2="1463.4" stroke="#000" stroke-width="2.2"/>
<line x1="233.9" y1="1462.3" x2="233.9" y2="1456.8" stroke="#000" stroke-width="2.2"/>
<line x1="352.3" y1="1462.3" x2="352.3" y2="1451.3" stroke="#000" stroke-width="2.2"/>
<line x1="470.6" y1="1462.3" x2="470.6" y2="1456.8" stroke="#000" stroke-width="2.2"/>
<line x1="588.9" y1="1462.3" x2="588.9" y2="1451.3" stroke="#000" stroke-width="2.2"/>
<line x1="707.8" y1="1462.3" x2="707.8" y2="1456.8" stroke="#000" stroke-width="2.2"/>
<line x1="109.6" y1="924.6" x2="115.1" y2="924.6" stroke="#000" stroke-width="2.2"/>
<line x1="109.6" y1="1030.5" x2="120.6" y2="1030.5" stroke="#000" stroke-width="2.2"/>
<line x1="109.6" y1="1136.8" x2="115.1" y2="1136.8" stroke="#000" stroke-width="2.2"/>
<line x1="109.6" y1="1243.2" x2="120.6" y2="1243.2" stroke="#000" stroke-width="2.2"/>
<line x1="109.6" y1="1350.4" x2="115.1" y2="1350.4" stroke="#000" stroke-width="2.2"/>
<text class="rs" x="115.6" y="1493.0" font-size="22.7" text-anchor="middle" fill="#3c3c3c">0</text>
<text class="rs" x="352.3" y="1493.0" font-size="22.7" text-anchor="middle" fill="#3c3c3c">2000</text>
<text class="rs" x="588.9" y="1493.0" font-size="22.7" text-anchor="middle" fill="#3c3c3c">4000</text>
<text class="rs" x="98.0" y="1040.0" font-size="22.7" text-anchor="end" fill="#3c3c3c">4000</text>
<text class="rs" x="98.0" y="1253.0" font-size="22.7" text-anchor="end" fill="#3c3c3c">2000</text>
<text class="rs" x="98.0" y="1466.0" font-size="22.7" text-anchor="end" fill="#3c3c3c">0</text>
<circle cx="181.3" cy="912.6" r="6.3" fill="#fff" stroke="#ff0000" stroke-width="4.3"/>
<circle cx="181.3" cy="953" r="6.3" fill="#fff" stroke="#0000ff" stroke-width="4.3"/>
<line x1="143.5" y1="993.0" x2="217.5" y2="993.0" stroke="#000" stroke-width="3"/>
<text class="bs" x="225.0" y="922.0" font-size="31.7">Train</text>
<text class="bs" x="225.0" y="962.5" font-size="31.7">Test</text>
<text class="bs" x="225.0" y="1002.5" font-size="31.7">Fitting line</text>
<text class="bs" x="150.3" y="1082.0" font-size="26.7">Train:</text>
<text class="bs" x="150.3" y="1116.1" font-size="26.7">R²=0.99637</text>
<text class="bs" x="150.3" y="1150.2" font-size="26.7">RMSE=5.60674</text>
<text class="bs" x="150.3" y="1184.3" font-size="26.7">MAPE=9.51099</text>
<text class="bs" x="493.5" y="1239.5" font-size="26.7">Test:</text>
<text class="bs" x="493.5" y="1273.7" font-size="26.7">R²=0.99411</text>
<text class="bs" x="493.5" y="1307.9" font-size="26.7">RMSE=8.65794</text>
<text class="bs" x="493.5" y="1342.1" font-size="26.7">MAPE=16.0140</text>
<text class="bs" x="563.5" y="1431.0" font-size="31.5" letter-spacing="1.57">PSO-BPNN</text>
<text class="bs" x="439.0" y="1528.0" font-size="27.0" text-anchor="middle">Measured value</text>
<text class="bs" x="0.0" y="0.0" font-size="26.5" text-anchor="middle" transform="translate(42.0,1167.0) rotate(-90)">Predictive value</text>
<text class="rs" y="1630.8" font-size="58.7"><tspan x="200.1">(c)</tspan> <tspan x="289.2">PSO-BPNN</tspan></text>
</g>
<g id="panel-d">
<clipPath id="clip-d"><rect x="1141.1" y="868.8" width="661.3000000000002" height="588.5"/></clipPath>
<g clip-path="url(#clip-d)"><g fill="#fff" stroke-width="4.1" filter="url(#soft)">
<circle cx="1143.5" cy="1452.0" r="6.1" stroke="#ff0000"/>
<circle cx="1143.8" cy="1446.5" r="6.1" stroke="#ff0000"/>
<circle cx="1146.6" cy="1445.7" r="6.1" stroke="#ff0000"/>
<circle cx="1157.4" cy="1458.0" r="6.1" stroke="#ff0000"/>
<circle cx="1146.2" cy="1439.8" r="6.1" stroke="#ff0000"/>
<circle cx="1146.5" cy="1440.8" r="6.1" stroke="#ff0000"/>
<circle cx="1155.7" cy="1446.0" r="6.1" stroke="#ff0000"/>
<circle cx="1158.0" cy="1441.6" r="6.1" stroke="#ff0000"/>
<circle cx="1166.5" cy="1450.4" r="6.1" stroke="#ff0000"/>
<circle cx="1167.6" cy="1441.2" r="6.1" stroke="#ff0000"/>
<circle cx="1158.7" cy="1434.1" r="6.1" stroke="#ff0000"/>
<circle cx="1160.2" cy="1431.9" r="6.1" stroke="#ff0000"/>
<circle cx="1164.9" cy="1433.2" r="6.1" stroke="#ff0000"/>
<circle cx="1179.6" cy="1439.0" r="6.1" stroke="#ff0000"/>
<circle cx="1175.5" cy="1436.3" r="6.1" stroke="#ff0000"/>
<circle cx="1168.6" cy="1418.6" r="6.1" stroke="#ff0000"/>
<circle cx="1181.6" cy="1428.4" r="6.1" stroke="#ff0000"/>
<circle cx="1178.5" cy="1423.5" r="6.1" stroke="#ff0000"/>
<circle cx="1186.8" cy="1426.4" r="6.1" stroke="#ff0000"/>
<circle cx="1181.5" cy="1416.1" r="6.1" stroke="#ff0000"/>
<circle cx="1177.4" cy="1413.5" r="6.1" stroke="#ff0000"/>
<circle cx="1187.0" cy="1421.4" r="6.1" stroke="#ff0000"/>
<circle cx="1191.8" cy="1423.8" r="6.1" stroke="#ff0000"/>
<circle cx="1193.8" cy="1417.2" r="6.1" stroke="#ff0000"/>
<circle cx="1200.7" cy="1420.2" r="6.1" stroke="#ff0000"/>
<circle cx="1196.0" cy="1414.1" r="6.1" stroke="#ff0000"/>
<circle cx="1191.4" cy="1403.4" r="6.1" stroke="#ff0000"/>
<circle cx="1201.1" cy="1410.3" r="6.1" stroke="#ff0000"/>
<circle cx="1195.2" cy="1403.5" r="6.1" stroke="#ff0000"/>
<circle cx="1192.9" cy="1397.2" r="6.1" stroke="#ff0000"/>
<circle cx="1202.1" cy="1396.0" r="6.1" stroke="#ff0000"/>
<circle cx="1215.0" cy="1407.1" r="6.1" stroke="#ff0000"/>
<circle cx="1210.7" cy="1400.1" r="6.1" stroke="#ff0000"/>
<circle cx="1215.8" cy="1406.6" r="6.1" stroke="#ff0000"/>
<circle cx="1219.3" cy="1398.3" r="6.1" stroke="#ff0000"/>
<circle cx="1220.1" cy="1397.0" r="6.1" stroke="#ff0000"/>
<circle cx="1211.7" cy="1381.9" r="6.1" stroke="#ff0000"/>
<circle cx="1220.1" cy="1392.5" r="6.1" stroke="#ff0000"/>
<circle cx="1221.2" cy="1385.9" r="6.1" stroke="#ff0000"/>
<circle cx="1229.4" cy="1391.4" r="6.1" stroke="#ff0000"/>
<circle cx="1221.4" cy="1377.4" r="6.1" stroke="#ff0000"/>
<circle cx="1235.4" cy="1388.3" r="6.1" stroke="#ff0000"/>
<circle cx="1233.9" cy="1388.0" r="6.1" stroke="#ff0000"/>
<circle cx="1230.5" cy="1375.0" r="6.1" stroke="#ff0000"/>
<circle cx="1236.7" cy="1377.8" r="6.1" stroke="#ff0000"/>
<circle cx="1232.8" cy="1375.0" r="6.1" stroke="#ff0000"/>
<circle cx="1237.7" cy="1377.7" r="6.1" stroke="#ff0000"/>
<circle cx="1243.2" cy="1380.1" r="6.1" stroke="#ff0000"/>
<circle cx="1239.7" cy="1364.4" r="6.1" stroke="#ff0000"/>
<circle cx="1245.5" cy="1375.5" r="6.1" stroke="#ff0000"/>
<circle cx="1237.0" cy="1357.6" r="6.1" stroke="#ff0000"/>
<circle cx="1246.6" cy="1367.0" r="6.1" stroke="#ff0000"/>
<circle cx="1248.4" cy="1359.6" r="6.1" stroke="#ff0000"/>
<circle cx="1250.7" cy="1361.8" r="6.1" stroke="#ff0000"/>
<circle cx="1261.0" cy="1365.0" r="6.1" stroke="#ff0000"/>
<circle cx="1261.4" cy="1365.3" r="6.1" stroke="#ff0000"/>
<circle cx="1249.5" cy="1351.1" r="6.1" stroke="#ff0000"/>
<circle cx="1256.8" cy="1347.9" r="6.1" stroke="#ff0000"/>
<circle cx="1259.6" cy="1348.5" r="6.1" stroke="#ff0000"/>
<circle cx="1268.1" cy="1357.1" r="6.1" stroke="#ff0000"/>
<circle cx="1271.2" cy="1353.0" r="6.1" stroke="#ff0000"/>
<circle cx="1269.3" cy="1350.2" r="6.1" stroke="#ff0000"/>
<circle cx="1262.3" cy="1334.8" r="6.1" stroke="#ff0000"/>
<circle cx="1262.8" cy="1335.0" r="6.1" stroke="#ff0000"/>
<circle cx="1273.5" cy="1340.5" r="6.1" stroke="#ff0000"/>
<circle cx="1273.7" cy="1340.6" r="6.1" stroke="#ff0000"/>
<circle cx="1276.2" cy="1340.7" r="6.1" stroke="#ff0000"/>
<circle cx="1282.4" cy="1336.0" r="6.1" stroke="#ff0000"/>
<circle cx="1273.9" cy="1325.7" r="6.1" stroke="#ff0000"/>
<circle cx="1281.6" cy="1333.0" r="6.1" stroke="#ff0000"/>
<circle cx="1289.6" cy="1338.5" r="6.1" stroke="#ff0000"/>
<circle cx="1283.7" cy="1322.4" r="6.1" stroke="#ff0000"/>
<circle cx="1291.7" cy="1328.2" r="6.1" stroke="#ff0000"/>
<circle cx="1287.0" cy="1319.7" r="6.1" stroke="#ff0000"/>
<circle cx="1291.0" cy="1319.5" r="6.1" stroke="#ff0000"/>
<circle cx="1297.3" cy="1323.1" r="6.1" stroke="#ff0000"/>
<circle cx="1299.6" cy="1323.7" r="6.1" stroke="#ff0000"/>
<circle cx="1295.1" cy="1312.7" r="6.1" stroke="#ff0000"/>
<circle cx="1304.2" cy="1316.7" r="6.1" stroke="#ff0000"/>
<circle cx="1302.8" cy="1311.3" r="6.1" stroke="#ff0000"/>
<circle cx="1312.1" cy="1315.0" r="6.1" stroke="#ff0000"/>
<circle cx="1313.9" cy="1308.9" r="6.1" stroke="#ff0000"/>
<circle cx="1316.1" cy="1302.9" r="6.1" stroke="#ff0000"/>
<circle cx="1317.8" cy="1298.0" r="6.1" stroke="#ff0000"/>
<circle cx="1323.4" cy="1298.6" r="6.1" stroke="#ff0000"/>
<circle cx="1324.1" cy="1290.7" r="6.1" stroke="#ff0000"/>
<circle cx="1331.3" cy="1291.6" r="6.1" stroke="#ff0000"/>
<circle cx="1329.2" cy="1283.6" r="6.1" stroke="#ff0000"/>
<circle cx="1332.9" cy="1278.3" r="6.1" stroke="#ff0000"/>
<circle cx="1338.8" cy="1281.7" r="6.1" stroke="#ff0000"/>
<circle cx="1346.9" cy="1281.1" r="6.1" stroke="#ff0000"/>
<circle cx="1341.7" cy="1271.3" r="6.1" stroke="#ff0000"/>
<circle cx="1348.5" cy="1269.8" r="6.1" stroke="#ff0000"/>
<circle cx="1349.2" cy="1268.5" r="6.1" stroke="#ff0000"/>
<circle cx="1354.1" cy="1263.2" r="6.1" stroke="#ff0000"/>
<circle cx="1357.9" cy="1261.9" r="6.1" stroke="#ff0000"/>
<circle cx="1363.4" cy="1257.8" r="6.1" stroke="#ff0000"/>
<circle cx="1366.5" cy="1254.8" r="6.1" stroke="#ff0000"/>
<circle cx="1373.2" cy="1260.3" r="6.1" stroke="#ff0000"/>
<circle cx="1375.1" cy="1250.9" r="6.1" stroke="#ff0000"/>
<circle cx="1380.8" cy="1250.0" r="6.1" stroke="#ff0000"/>
<circle cx="1377.6" cy="1245.1" r="6.1" stroke="#ff0000"/>
<circle cx="1383.4" cy="1242.9" r="6.1" stroke="#ff0000"/>
<circle cx="1390.3" cy="1244.5" r="6.1" stroke="#ff0000"/>
<circle cx="1391.6" cy="1238.5" r="6.1" stroke="#ff0000"/>
<circle cx="1395.6" cy="1237.2" r="6.1" stroke="#ff0000"/>
<circle cx="1398.1" cy="1229.9" r="6.1" stroke="#ff0000"/>
<circle cx="1401.2" cy="1224.4" r="6.1" stroke="#ff0000"/>
<circle cx="1409.6" cy="1224.0" r="6.1" stroke="#ff0000"/>
<circle cx="1413.1" cy="1225.3" r="6.1" stroke="#ff0000"/>
<circle cx="1414.0" cy="1219.3" r="6.1" stroke="#ff0000"/>
<circle cx="1420.9" cy="1216.2" r="6.1" stroke="#ff0000"/>
<circle cx="1418.4" cy="1213.6" r="6.1" stroke="#ff0000"/>
<circle cx="1420.0" cy="1207.7" r="6.1" stroke="#ff0000"/>
<circle cx="1425.2" cy="1204.3" r="6.1" stroke="#ff0000"/>
<circle cx="1431.1" cy="1198.4" r="6.1" stroke="#ff0000"/>
<circle cx="1430.0" cy="1194.9" r="6.1" stroke="#ff0000"/>
<circle cx="1434.6" cy="1191.0" r="6.1" stroke="#ff0000"/>
<circle cx="1439.9" cy="1194.5" r="6.1" stroke="#ff0000"/>
<circle cx="1443.2" cy="1187.3" r="6.1" stroke="#ff0000"/>
<circle cx="1445.2" cy="1178.8" r="6.1" stroke="#ff0000"/>
<circle cx="1449.2" cy="1181.8" r="6.1" stroke="#ff0000"/>
<circle cx="1448.4" cy="1177.1" r="6.1" stroke="#ff0000"/>
<circle cx="1461.8" cy="1180.0" r="6.1" stroke="#ff0000"/>
<circle cx="1458.7" cy="1173.2" r="6.1" stroke="#ff0000"/>
<circle cx="1465.4" cy="1167.0" r="6.1" stroke="#ff0000"/>
<circle cx="1469.2" cy="1168.4" r="6.1" stroke="#ff0000"/>
<circle cx="1473.4" cy="1167.4" r="6.1" stroke="#ff0000"/>
<circle cx="1470.4" cy="1156.1" r="6.1" stroke="#ff0000"/>
<circle cx="1476.4" cy="1151.0" r="6.1" stroke="#ff0000"/>
<circle cx="1323.3" cy="1357.3" r="6.1" stroke="#ff0000"/>
<circle cx="1317.2" cy="1345.2" r="6.1" stroke="#ff0000"/>
<circle cx="1311.2" cy="1328.3" r="6.1" stroke="#ff0000"/>
<circle cx="1318.4" cy="1315.6" r="6.1" stroke="#ff0000"/>
<circle cx="1326.9" cy="1307.7" r="6.1" stroke="#ff0000"/>
<circle cx="1278.5" cy="1311.3" r="6.1" stroke="#ff0000"/>
<circle cx="1293.6" cy="1308.3" r="6.1" stroke="#ff0000"/>
<circle cx="1271.2" cy="1365.2" r="6.1" stroke="#ff0000"/>
<circle cx="1256.7" cy="1380.3" r="6.1" stroke="#ff0000"/>
<circle cx="1240.9" cy="1392.4" r="6.1" stroke="#ff0000"/>
<circle cx="1250.6" cy="1387.6" r="6.1" stroke="#ff0000"/>
<circle cx="1221.0" cy="1408.2" r="6.1" stroke="#ff0000"/>
<circle cx="1212.5" cy="1419.1" r="6.1" stroke="#ff0000"/>
<circle cx="1200.4" cy="1431.8" r="6.1" stroke="#ff0000"/>
<circle cx="1168.3" cy="1406.4" r="6.1" stroke="#ff0000"/>
<circle cx="1196.7" cy="1382.7" r="6.1" stroke="#ff0000"/>
<circle cx="1158.0" cy="1415.4" r="6.1" stroke="#ff0000"/>
<circle cx="1258.5" cy="1336.7" r="6.1" stroke="#ff0000"/>
<circle cx="1239.1" cy="1354.9" r="6.1" stroke="#ff0000"/>
<circle cx="1158.0" cy="1454.2" r="6.1" stroke="#ff0000"/>
<circle cx="1144.7" cy="1428.8" r="6.1" stroke="#ff0000"/>
<circle cx="1228.2" cy="1402.1" r="6.1" stroke="#ff0000"/>
<circle cx="1263.3" cy="1371.9" r="6.1" stroke="#ff0000"/>
<circle cx="1277.9" cy="1359.7" r="6.1" stroke="#ff0000"/>
<circle cx="1210.1" cy="1369.4" r="6.1" stroke="#ff0000"/>
<circle cx="1190.7" cy="1436.0" r="6.1" stroke="#ff0000"/>
<circle cx="1328.7" cy="1279.8" r="6.1" stroke="#ff0000"/>
<circle cx="1231.9" cy="1399.7" r="6.1" stroke="#ff0000"/>
<circle cx="1480.7" cy="1199.8" r="6.1" stroke="#ff0000"/>
<circle cx="1430.4" cy="1180.4" r="6.1" stroke="#ff0000"/>
<circle cx="1440.1" cy="1172.5" r="6.1" stroke="#ff0000"/>
<circle cx="1440.1" cy="1199.2" r="6.1" stroke="#ff0000"/>
<circle cx="1465.5" cy="1182.2" r="6.1" stroke="#ff0000"/>
<circle cx="1457.1" cy="1171.3" r="6.1" stroke="#ff0000"/>
<circle cx="1483.7" cy="1145.9" r="6.1" stroke="#ff0000"/>
<circle cx="1488.5" cy="1156.8" r="6.1" stroke="#ff0000"/>
<circle cx="1418.3" cy="1202.8" r="6.1" stroke="#ff0000"/>
<circle cx="1423.2" cy="1212.5" r="6.1" stroke="#ff0000"/>
<circle cx="1384.4" cy="1233.1" r="6.1" stroke="#ff0000"/>
<circle cx="1355.4" cy="1248.8" r="6.1" stroke="#ff0000"/>
<circle cx="1344.5" cy="1262.1" r="6.1" stroke="#ff0000"/>
<circle cx="1375.4" cy="1276.6" r="6.1" stroke="#ff0000"/>
<circle cx="1363.2" cy="1287.5" r="6.1" stroke="#ff0000"/>
<circle cx="1378.4" cy="1256.1" r="6.1" stroke="#ff0000"/>
<circle cx="1469.2" cy="1171.3" r="6.1" stroke="#ff0000"/>
<circle cx="1453.4" cy="1187.1" r="6.1" stroke="#ff0000"/>
<circle cx="1638.5" cy="1008.5" r="6.1" stroke="#ff0000"/>
<circle cx="1614.3" cy="1024.8" r="6.1" stroke="#ff0000"/>
<circle cx="1619.2" cy="1033.9" r="6.1" stroke="#ff0000"/>
<circle cx="1627.7" cy="1027.8" r="6.1" stroke="#ff0000"/>
<circle cx="1597.4" cy="1044.8" r="6.1" stroke="#ff0000"/>
<circle cx="1597.4" cy="1056.9" r="6.1" stroke="#ff0000"/>
<circle cx="1590.1" cy="1052.1" r="6.1" stroke="#ff0000"/>
<circle cx="1581.6" cy="1063.0" r="6.1" stroke="#ff0000"/>
<circle cx="1584.1" cy="1071.4" r="6.1" stroke="#ff0000"/>
<circle cx="1570.8" cy="1073.8" r="6.1" stroke="#ff0000"/>
<circle cx="1553.8" cy="1089.6" r="6.1" stroke="#ff0000"/>
<circle cx="1555.0" cy="1093.2" r="6.1" stroke="#ff0000"/>
<circle cx="1534.4" cy="1104.1" r="6.1" stroke="#ff0000"/>
<circle cx="1535.6" cy="1107.7" r="6.1" stroke="#ff0000"/>
<circle cx="1512.6" cy="1124.7" r="6.1" stroke="#ff0000"/>
<circle cx="1507.8" cy="1128.3" r="6.1" stroke="#ff0000"/>
<circle cx="1515.1" cy="1132.0" r="6.1" stroke="#ff0000"/>
<circle cx="1495.7" cy="1145.3" r="6.1" stroke="#ff0000"/>
<circle cx="1464.2" cy="1167.1" r="6.1" stroke="#ff0000"/>
<circle cx="1447.3" cy="1190.1" r="6.1" stroke="#ff0000"/>
<circle cx="1726.1" cy="954.6" r="6.1" stroke="#ff0000"/>
<circle cx="1703.7" cy="957.0" r="6.1" stroke="#ff0000"/>
<circle cx="1687.3" cy="974.6" r="6.1" stroke="#ff0000"/>
<circle cx="1664.9" cy="992.1" r="6.1" stroke="#ff0000"/>
<circle cx="1142.0" cy="1454.7" r="6.1" stroke="#0000ff"/>
<circle cx="1141.7" cy="1447.7" r="6.1" stroke="#0000ff"/>
<circle cx="1148.4" cy="1452.4" r="6.1" stroke="#0000ff"/>
<circle cx="1146.1" cy="1443.8" r="6.1" stroke="#0000ff"/>
<circle cx="1154.7" cy="1449.2" r="6.1" stroke="#0000ff"/>
<circle cx="1159.1" cy="1448.4" r="6.1" stroke="#0000ff"/>
<circle cx="1156.8" cy="1444.4" r="6.1" stroke="#0000ff"/>
<circle cx="1158.2" cy="1436.8" r="6.1" stroke="#0000ff"/>
<circle cx="1166.3" cy="1444.0" r="6.1" stroke="#0000ff"/>
<circle cx="1167.9" cy="1437.7" r="6.1" stroke="#0000ff"/>
<circle cx="1162.2" cy="1433.2" r="6.1" stroke="#0000ff"/>
<circle cx="1168.8" cy="1437.0" r="6.1" stroke="#0000ff"/>
<circle cx="1164.9" cy="1426.9" r="6.1" stroke="#0000ff"/>
<circle cx="1171.5" cy="1428.2" r="6.1" stroke="#0000ff"/>
<circle cx="1173.9" cy="1425.4" r="6.1" stroke="#0000ff"/>
<circle cx="1173.0" cy="1424.3" r="6.1" stroke="#0000ff"/>
<circle cx="1175.9" cy="1421.5" r="6.1" stroke="#0000ff"/>
<circle cx="1180.4" cy="1421.7" r="6.1" stroke="#0000ff"/>
<circle cx="1185.6" cy="1421.5" r="6.1" stroke="#0000ff"/>
<circle cx="1185.5" cy="1418.5" r="6.1" stroke="#0000ff"/>
<circle cx="1186.1" cy="1412.6" r="6.1" stroke="#0000ff"/>
<circle cx="1193.4" cy="1419.4" r="6.1" stroke="#0000ff"/>
<circle cx="1194.7" cy="1410.5" r="6.1" stroke="#0000ff"/>
<circle cx="1191.2" cy="1405.5" r="6.1" stroke="#0000ff"/>
<circle cx="1202.6" cy="1411.7" r="6.1" stroke="#0000ff"/>
<circle cx="1200.0" cy="1406.2" r="6.1" stroke="#0000ff"/>
<circle cx="1199.9" cy="1401.1" r="6.1" stroke="#0000ff"/>
<circle cx="1205.4" cy="1400.4" r="6.1" stroke="#0000ff"/>
<circle cx="1206.2" cy="1401.5" r="6.1" stroke="#0000ff"/>
<circle cx="1203.2" cy="1395.5" r="6.1" stroke="#0000ff"/>
<circle cx="1213.4" cy="1396.8" r="6.1" stroke="#0000ff"/>
<circle cx="1217.7" cy="1397.2" r="6.1" stroke="#0000ff"/>
<circle cx="1212.3" cy="1390.3" r="6.1" stroke="#0000ff"/>
<circle cx="1219.8" cy="1391.2" r="6.1" stroke="#0000ff"/>
<circle cx="1213.4" cy="1385.3" r="6.1" stroke="#0000ff"/>
<circle cx="1221.4" cy="1386.2" r="6.1" stroke="#0000ff"/>
<circle cx="1222.5" cy="1384.9" r="6.1" stroke="#0000ff"/>
<circle cx="1229.0" cy="1385.6" r="6.1" stroke="#0000ff"/>
<circle cx="1222.8" cy="1378.8" r="6.1" stroke="#0000ff"/>
<circle cx="1233.7" cy="1379.9" r="6.1" stroke="#0000ff"/>
<circle cx="1230.0" cy="1372.7" r="6.1" stroke="#0000ff"/>
<circle cx="1239.6" cy="1378.5" r="6.1" stroke="#0000ff"/>
<circle cx="1234.2" cy="1365.5" r="6.1" stroke="#0000ff"/>
<circle cx="1234.7" cy="1370.2" r="6.1" stroke="#0000ff"/>
<circle cx="1236.4" cy="1366.1" r="6.1" stroke="#0000ff"/>
<circle cx="1243.7" cy="1363.3" r="6.1" stroke="#0000ff"/>
<circle cx="1241.6" cy="1363.9" r="6.1" stroke="#0000ff"/>
<circle cx="1251.2" cy="1363.2" r="6.1" stroke="#0000ff"/>
<circle cx="1253.4" cy="1364.0" r="6.1" stroke="#0000ff"/>
<circle cx="1251.1" cy="1361.0" r="6.1" stroke="#0000ff"/>
<circle cx="1250.8" cy="1357.4" r="6.1" stroke="#0000ff"/>
<circle cx="1259.3" cy="1359.5" r="6.1" stroke="#0000ff"/>
<circle cx="1260.4" cy="1359.2" r="6.1" stroke="#0000ff"/>
<circle cx="1261.0" cy="1349.2" r="6.1" stroke="#0000ff"/>
<circle cx="1257.6" cy="1346.5" r="6.1" stroke="#0000ff"/>
<circle cx="1264.8" cy="1348.5" r="6.1" stroke="#0000ff"/>
<circle cx="1266.2" cy="1344.1" r="6.1" stroke="#0000ff"/>
<circle cx="1264.8" cy="1339.0" r="6.1" stroke="#0000ff"/>
<circle cx="1276.6" cy="1345.0" r="6.1" stroke="#0000ff"/>
<circle cx="1277.6" cy="1342.3" r="6.1" stroke="#0000ff"/>
<circle cx="1277.8" cy="1335.6" r="6.1" stroke="#0000ff"/>
<circle cx="1278.2" cy="1334.2" r="6.1" stroke="#0000ff"/>
<circle cx="1282.8" cy="1335.6" r="6.1" stroke="#0000ff"/>
<circle cx="1286.0" cy="1333.0" r="6.1" stroke="#0000ff"/>
<circle cx="1283.0" cy="1330.7" r="6.1" stroke="#0000ff"/>
<circle cx="1288.9" cy="1330.8" r="6.1" stroke="#0000ff"/>
<circle cx="1285.6" cy="1324.3" r="6.1" stroke="#0000ff"/>
<circle cx="1290.1" cy="1320.7" r="6.1" stroke="#0000ff"/>
<circle cx="1298.2" cy="1325.3" r="6.1" stroke="#0000ff"/>
<circle cx="1297.9" cy="1325.4" r="6.1" stroke="#0000ff"/>
<circle cx="1296.0" cy="1317.7" r="6.1" stroke="#0000ff"/>
<circle cx="1298.4" cy="1314.3" r="6.1" stroke="#0000ff"/>
<circle cx="1307.0" cy="1311.1" r="6.1" stroke="#0000ff"/>
<circle cx="1312.9" cy="1308.2" r="6.1" stroke="#0000ff"/>
<circle cx="1315.2" cy="1305.9" r="6.1" stroke="#0000ff"/>
<circle cx="1319.0" cy="1295.4" r="6.1" stroke="#0000ff"/>
<circle cx="1324.4" cy="1296.4" r="6.1" stroke="#0000ff"/>
<circle cx="1328.9" cy="1286.4" r="6.1" stroke="#0000ff"/>
<circle cx="1332.1" cy="1284.8" r="6.1" stroke="#0000ff"/>
<circle cx="1338.8" cy="1280.3" r="6.1" stroke="#0000ff"/>
<circle cx="1345.3" cy="1277.7" r="6.1" stroke="#0000ff"/>
<circle cx="1348.9" cy="1271.5" r="6.1" stroke="#0000ff"/>
<circle cx="1353.8" cy="1268.9" r="6.1" stroke="#0000ff"/>
<circle cx="1359.3" cy="1260.4" r="6.1" stroke="#0000ff"/>
<circle cx="1363.5" cy="1257.0" r="6.1" stroke="#0000ff"/>
<circle cx="1368.7" cy="1252.0" r="6.1" stroke="#0000ff"/>
<circle cx="1375.0" cy="1248.5" r="6.1" stroke="#0000ff"/>
<circle cx="1378.6" cy="1244.1" r="6.1" stroke="#0000ff"/>
<circle cx="1384.5" cy="1243.9" r="6.1" stroke="#0000ff"/>
<circle cx="1389.1" cy="1239.0" r="6.1" stroke="#0000ff"/>
<circle cx="1393.4" cy="1229.7" r="6.1" stroke="#0000ff"/>
<circle cx="1396.7" cy="1227.7" r="6.1" stroke="#0000ff"/>
<circle cx="1406.9" cy="1221.0" r="6.1" stroke="#0000ff"/>
<circle cx="1409.2" cy="1217.8" r="6.1" stroke="#0000ff"/>
<circle cx="1413.3" cy="1215.3" r="6.1" stroke="#0000ff"/>
<circle cx="1419.8" cy="1212.0" r="6.1" stroke="#0000ff"/>
<circle cx="1425.0" cy="1205.7" r="6.1" stroke="#0000ff"/>
<circle cx="1426.9" cy="1199.9" r="6.1" stroke="#0000ff"/>
<circle cx="1435.0" cy="1197.8" r="6.1" stroke="#0000ff"/>
<circle cx="1303.9" cy="1293.8" r="6.1" stroke="#0000ff"/>
<circle cx="1316.6" cy="1297.4" r="6.1" stroke="#0000ff"/>
<circle cx="1306.3" cy="1305.3" r="6.1" stroke="#0000ff"/>
<circle cx="1305.1" cy="1320.4" r="6.1" stroke="#0000ff"/>
<circle cx="1272.4" cy="1320.4" r="6.1" stroke="#0000ff"/>
<circle cx="1285.1" cy="1318.6" r="6.1" stroke="#0000ff"/>
<circle cx="1285.1" cy="1328.3" r="6.1" stroke="#0000ff"/>
<circle cx="1273.0" cy="1335.5" r="6.1" stroke="#0000ff"/>
<circle cx="1285.1" cy="1341.6" r="6.1" stroke="#0000ff"/>
<circle cx="1296.0" cy="1338.0" r="6.1" stroke="#0000ff"/>
<circle cx="1262.1" cy="1341.0" r="6.1" stroke="#0000ff"/>
<circle cx="1260.9" cy="1351.3" r="6.1" stroke="#0000ff"/>
<circle cx="1277.9" cy="1346.4" r="6.1" stroke="#0000ff"/>
<circle cx="1243.4" cy="1361.0" r="6.1" stroke="#0000ff"/>
<circle cx="1251.8" cy="1367.0" r="6.1" stroke="#0000ff"/>
<circle cx="1219.1" cy="1359.1" r="6.1" stroke="#0000ff"/>
<circle cx="1219.1" cy="1370.6" r="6.1" stroke="#0000ff"/>
<circle cx="1230.6" cy="1371.9" r="6.1" stroke="#0000ff"/>
<circle cx="1233.1" cy="1380.9" r="6.1" stroke="#0000ff"/>
<circle cx="1241.5" cy="1375.5" r="6.1" stroke="#0000ff"/>
<circle cx="1225.8" cy="1390.0" r="6.1" stroke="#0000ff"/>
<circle cx="1214.3" cy="1390.0" r="6.1" stroke="#0000ff"/>
<circle cx="1202.8" cy="1399.1" r="6.1" stroke="#0000ff"/>
<circle cx="1195.5" cy="1393.0" r="6.1" stroke="#0000ff"/>
<circle cx="1187.1" cy="1397.3" r="6.1" stroke="#0000ff"/>
<circle cx="1188.3" cy="1405.1" r="6.1" stroke="#0000ff"/>
<circle cx="1212.5" cy="1400.9" r="6.1" stroke="#0000ff"/>
<circle cx="1205.8" cy="1415.4" r="6.1" stroke="#0000ff"/>
<circle cx="1175.0" cy="1414.2" r="6.1" stroke="#0000ff"/>
<circle cx="1165.3" cy="1425.1" r="6.1" stroke="#0000ff"/>
<circle cx="1144.7" cy="1436.6" r="6.1" stroke="#0000ff"/>
<circle cx="1154.4" cy="1434.8" r="6.1" stroke="#0000ff"/>
<circle cx="1175.0" cy="1437.2" r="6.1" stroke="#0000ff"/>
<circle cx="1168.9" cy="1450.5" r="6.1" stroke="#0000ff"/>
<circle cx="1142.3" cy="1450.5" r="6.1" stroke="#0000ff"/>
<circle cx="1158.0" cy="1444.5" r="6.1" stroke="#0000ff"/>
<circle cx="1183.4" cy="1420.3" r="6.1" stroke="#0000ff"/>
<circle cx="1182.8" cy="1443.3" r="6.1" stroke="#0000ff"/>
<circle cx="1195.5" cy="1411.8" r="6.1" stroke="#0000ff"/>
<circle cx="1207.6" cy="1407.0" r="6.1" stroke="#0000ff"/>
<circle cx="1331.1" cy="1282.3" r="6.1" stroke="#0000ff"/>
<circle cx="1328.7" cy="1290.7" r="6.1" stroke="#0000ff"/>
<circle cx="1402.6" cy="1205.2" r="6.1" stroke="#0000ff"/>
<circle cx="1432.3" cy="1210.7" r="6.1" stroke="#0000ff"/>
<circle cx="1409.9" cy="1245.2" r="6.1" stroke="#0000ff"/>
<circle cx="1440.7" cy="1187.1" r="6.1" stroke="#0000ff"/>
<circle cx="1452.8" cy="1178.6" r="6.1" stroke="#0000ff"/>
<circle cx="1472.8" cy="1162.8" r="6.1" stroke="#0000ff"/>
<circle cx="1478.9" cy="1156.8" r="6.1" stroke="#0000ff"/>
<circle cx="1395.3" cy="1222.2" r="6.1" stroke="#0000ff"/>
<circle cx="1409.2" cy="1222.2" r="6.1" stroke="#0000ff"/>
<circle cx="1399.0" cy="1230.6" r="6.1" stroke="#0000ff"/>
<circle cx="1390.5" cy="1241.5" r="6.1" stroke="#0000ff"/>
<circle cx="1380.8" cy="1246.4" r="6.1" stroke="#0000ff"/>
<circle cx="1368.7" cy="1247.6" r="6.1" stroke="#0000ff"/>
<circle cx="1369.9" cy="1258.5" r="6.1" stroke="#0000ff"/>
<circle cx="1360.2" cy="1267.0" r="6.1" stroke="#0000ff"/>
<circle cx="1346.9" cy="1274.2" r="6.1" stroke="#0000ff"/>
<circle cx="1338.4" cy="1285.1" r="6.1" stroke="#0000ff"/>
<circle cx="1336.0" cy="1292.4" r="6.1" stroke="#0000ff"/>
<circle cx="1293.6" cy="1328.7" r="6.1" stroke="#0000ff"/>
<circle cx="1488.5" cy="1135.0" r="6.1" stroke="#0000ff"/>
<circle cx="1357.8" cy="1256.1" r="6.1" stroke="#0000ff"/>
<circle cx="1621.0" cy="1011.5" r="6.1" stroke="#0000ff"/>
<circle cx="1605.3" cy="1043.0" r="6.1" stroke="#0000ff"/>
<circle cx="1490.2" cy="1104.7" r="6.1" stroke="#0000ff"/>
<circle cx="1521.7" cy="1112.6" r="6.1" stroke="#0000ff"/>
<circle cx="1529.6" cy="1115.0" r="6.1" stroke="#0000ff"/>
<circle cx="1503.0" cy="1139.2" r="6.1" stroke="#0000ff"/>
<circle cx="1714.6" cy="944.3" r="6.1" stroke="#0000ff"/>
</g></g>
<line x1="1141.1" y1="1457.3" x2="1802.9" y2="868.4" stroke="#000" stroke-width="2.8" filter="url(#soft2)"/>
<line x1="1140.0" y1="868.8" x2="1803.5" y2="868.8" stroke="#000" stroke-width="2.2"/>
<line x1="1802.4" y1="867.7" x2="1802.4" y2="1458.4" stroke="#444" stroke-width="2.2"/>
<line x1="1140.0" y1="1457.3" x2="1803.5" y2="1457.3" stroke="#000" stroke-width="2.2"/>
<line x1="1141.1" y1="867.7" x2="1141.1" y2="1458.4" stroke="#333" stroke-width="2.2"/>
<line x1="1251.7" y1="1457.3" x2="1251.7" y2="1451.8" stroke="#000" stroke-width="2.2"/>
<line x1="1362.0" y1="1457.3" x2="1362.0" y2="1446.3" stroke="#000" stroke-width="2.2"/>
<line x1="1472.1" y1="1457.3" x2="1472.1" y2="1451.8" stroke="#000" stroke-width="2.2"/>
<line x1="1581.9" y1="1457.3" x2="1581.9" y2="1446.3" stroke="#000" stroke-width="2.2"/>
<line x1="1691.6" y1="1457.3" x2="1691.6" y2="1451.8" stroke="#000" stroke-width="2.2"/>
<line x1="1141.1" y1="966.0" x2="1146.6" y2="966.0" stroke="#000" stroke-width="2.2"/>
<line x1="1141.1" y1="1063.6" x2="1152.1" y2="1063.6" stroke="#000" stroke-width="2.2"/>
<line x1="1141.1" y1="1161.3" x2="1146.6" y2="1161.3" stroke="#000" stroke-width="2.2"/>
<line x1="1141.1" y1="1259.6" x2="1152.1" y2="1259.6" stroke="#000" stroke-width="2.2"/>
<line x1="1141.1" y1="1358.2" x2="1146.6" y2="1358.2" stroke="#000" stroke-width="2.2"/>
<text class="rs" x="1141.0" y="1486.0" font-size="22.7" text-anchor="middle" fill="#3c3c3c">0</text>
<text class="rs" x="1362.0" y="1486.0" font-size="22.7" text-anchor="middle" fill="#3c3c3c">2000</text>
<text class="rs" x="1582.0" y="1486.0" font-size="22.7" text-anchor="middle" fill="#3c3c3c">4000</text>
<text class="rs" x="1803.0" y="1486.0" font-size="22.7" text-anchor="middle" fill="#3c3c3c">6000</text>
<text class="rs" x="1129.0" y="877.0" font-size="22.7" text-anchor="end" fill="#3c3c3c">6000</text>
<text class="rs" x="1129.0" y="1074.0" font-size="22.7" text-anchor="end" fill="#3c3c3c">4000</text>
<text class="rs" x="1129.0" y="1270.0" font-size="22.7" text-anchor="end" fill="#3c3c3c">2000</text>
<text class="rs" x="1129.0" y="1465.0" font-size="22.7" text-anchor="end" fill="#3c3c3c">0</text>
<circle cx="1205" cy="900.5" r="6.3" fill="#fff" stroke="#ff0000" stroke-width="4.3"/>
<circle cx="1205" cy="940.5" r="6.3" fill="#fff" stroke="#0000ff" stroke-width="4.3"/>
<line x1="1168.0" y1="980.0" x2="1242.5" y2="980.0" stroke="#000" stroke-width="3"/>
<text class="bs" x="1249.0" y="909.5" font-size="31.7">Train</text>
<text class="bs" x="1249.0" y="949.5" font-size="31.7">Test</text>
<text class="bs" x="1249.0" y="989.5" font-size="31.7">Fitting line</text>
<text class="bs" x="1181.5" y="1081.0" font-size="26.7">Train:</text>
<text class="bs" x="1181.5" y="1114.6" font-size="26.7">R²=0.99965</text>
<text class="bs" x="1181.5" y="1148.2" font-size="26.7">RMSE=1.24356</text>
<text class="bs" x="1181.5" y="1181.8" font-size="26.7">MAPE=7.15134</text>
<text class="bs" x="1557.0" y="1226.0" font-size="26.7">Test:</text>
<text class="bs" x="1557.0" y="1259.7" font-size="26.7">R²=0.99651</text>
<text class="bs" x="1557.0" y="1293.4" font-size="26.7">RMSE=3.34974</text>
<text class="bs" x="1557.0" y="1327.1" font-size="26.7">MAPE=9.10231</text>
<text class="bs" x="1569.0" y="1397.0" font-size="31.5" letter-spacing="1.55">LDA-BPNN</text>
<text class="rs" x="1471.5" y="1522.0" font-size="27.0" text-anchor="middle">Measured value</text>
<text class="bs" x="0.0" y="0.0" font-size="26.5" text-anchor="middle" transform="translate(1073.0,1162.0) rotate(-90)">Predictive value</text>
<text class="rs" y="1630.8" font-size="58.7"><tspan x="1243.1">(d)</tspan> <tspan x="1332.4">LDA-BPNN</tspan></text>
</g>
<g id="panel-e">
<rect x="574.2" y="2002.8" width="76.8" height="326.2" fill="#fcc797" stroke="#3a3a3a" stroke-width="1"/>
<rect x="651.0" y="1803.0" width="79.1" height="526.0" fill="#9dd69d" stroke="#3a3a3a" stroke-width="1"/>
<rect x="767.2" y="2124.7" width="77.9" height="204.3" fill="#fcc797" stroke="#3a3a3a" stroke-width="1"/>
<rect x="845.1" y="2075.1" width="78.6" height="253.9" fill="#9dd69d" stroke="#3a3a3a" stroke-width="1"/>
<rect x="961.8" y="2113.0" width="77.4" height="216.0" fill="#fcc797" stroke="#3a3a3a" stroke-width="1"/>
<rect x="1039.2" y="1929.4" width="77.5" height="399.6" fill="#9dd69d" stroke="#3a3a3a" stroke-width="1"/>
<rect x="1155.6" y="2245.4" width="76.4" height="83.6" fill="#fcc797" stroke="#3a3a3a" stroke-width="1"/>
<rect x="1232.0" y="2101.9" width="78.0" height="227.1" fill="#9dd69d" stroke="#3a3a3a" stroke-width="1"/>
<rect x="555" y="1705.2" width="774.5" height="623.8" fill="none" stroke="#000" stroke-width="1.9"/>
<line x1="555.0" y1="2266.6" x2="561.0" y2="2266.6" stroke="#000" stroke-width="2"/>
<line x1="1329.5" y1="2266.6" x2="1323.5" y2="2266.6" stroke="#000" stroke-width="2"/>
<line x1="555.0" y1="2204.2" x2="566.5" y2="2204.2" stroke="#000" stroke-width="2"/>
<line x1="1329.5" y1="2204.2" x2="1318.0" y2="2204.2" stroke="#000" stroke-width="2"/>
<line x1="555.0" y1="2141.9" x2="561.0" y2="2141.9" stroke="#000" stroke-width="2"/>
<line x1="1329.5" y1="2141.9" x2="1323.5" y2="2141.9" stroke="#000" stroke-width="2"/>
<line x1="555.0" y1="2079.5" x2="566.5" y2="2079.5" stroke="#000" stroke-width="2"/>
<line x1="1329.5" y1="2079.5" x2="1318.0" y2="2079.5" stroke="#000" stroke-width="2"/>
<line x1="555.0" y1="2017.1" x2="561.0" y2="2017.1" stroke="#000" stroke-width="2"/>
<line x1="1329.5" y1="2017.1" x2="1323.5" y2="2017.1" stroke="#000" stroke-width="2"/>
<line x1="555.0" y1="1954.7" x2="566.5" y2="1954.7" stroke="#000" stroke-width="2"/>
<line x1="1329.5" y1="1954.7" x2="1318.0" y2="1954.7" stroke="#000" stroke-width="2"/>
<line x1="555.0" y1="1892.3" x2="561.0" y2="1892.3" stroke="#000" stroke-width="2"/>
<line x1="1329.5" y1="1892.3" x2="1323.5" y2="1892.3" stroke="#000" stroke-width="2"/>
<line x1="555.0" y1="1830.0" x2="566.5" y2="1830.0" stroke="#000" stroke-width="2"/>
<line x1="1329.5" y1="1830.0" x2="1318.0" y2="1830.0" stroke="#000" stroke-width="2"/>
<line x1="555.0" y1="1767.6" x2="561.0" y2="1767.6" stroke="#000" stroke-width="2"/>
<line x1="1329.5" y1="1767.6" x2="1323.5" y2="1767.6" stroke="#000" stroke-width="2"/>
<line x1="651.0" y1="1705.2" x2="651.0" y2="1716.7" stroke="#000" stroke-width="2"/>
<line x1="651.0" y1="2329.0" x2="651.0" y2="2317.0" stroke="#000" stroke-width="2"/>
<line x1="747.8" y1="1705.2" x2="747.8" y2="1711.2" stroke="#000" stroke-width="2"/>
<line x1="747.8" y1="2329.0" x2="747.8" y2="2323.0" stroke="#000" stroke-width="2"/>
<line x1="844.7" y1="1705.2" x2="844.7" y2="1716.7" stroke="#000" stroke-width="2"/>
<line x1="844.7" y1="2329.0" x2="844.7" y2="2317.0" stroke="#000" stroke-width="2"/>
<line x1="941.5" y1="1705.2" x2="941.5" y2="1711.2" stroke="#000" stroke-width="2"/>
<line x1="941.5" y1="2329.0" x2="941.5" y2="2323.0" stroke="#000" stroke-width="2"/>
<line x1="1038.3" y1="1705.2" x2="1038.3" y2="1716.7" stroke="#000" stroke-width="2"/>
<line x1="1038.3" y1="2329.0" x2="1038.3" y2="2317.0" stroke="#000" stroke-width="2"/>
<line x1="1135.2" y1="1705.2" x2="1135.2" y2="1711.2" stroke="#000" stroke-width="2"/>
<line x1="1135.2" y1="2329.0" x2="1135.2" y2="2323.0" stroke="#000" stroke-width="2"/>
<line x1="1232.0" y1="1705.2" x2="1232.0" y2="1716.7" stroke="#000" stroke-width="2"/>
<line x1="1232.0" y1="2329.0" x2="1232.0" y2="2317.0" stroke="#000" stroke-width="2"/>
<text class="rs" x="542.0" y="2339.5" font-size="26" text-anchor="end" fill="#111">0</text>
<text class="rs" x="542.0" y="2214.7" font-size="26" text-anchor="end" fill="#111">5</text>
<text class="rs" x="542.0" y="2090.0" font-size="26" text-anchor="end" fill="#111">10</text>
<text class="rs" x="542.0" y="1965.2" font-size="26" text-anchor="end" fill="#111">15</text>
<text class="rs" x="542.0" y="1840.5" font-size="26" text-anchor="end" fill="#111">20</text>
<text class="rs" x="542.0" y="1715.7" font-size="26" text-anchor="end" fill="#111">25</text>
<text class="rs" x="674.8" y="2368.5" font-size="32.6" text-anchor="middle" fill="#111">BPNN</text>
<text class="rs" x="830.6" y="2368.5" font-size="32.6" text-anchor="middle" fill="#111">GA-BPNN</text>
<text class="rs" x="1021.2" y="2368.5" font-size="32.6" text-anchor="middle" fill="#111">PSO-BPNN</text>
<text class="rs" x="1214.9" y="2368.5" font-size="32.6" text-anchor="middle" fill="#111">LDA-BPNN</text>
<text class="rs" x="613.0" y="1996.0" font-size="32.3" text-anchor="middle">13.0744</text>
<text class="rs" x="690.0" y="1795.0" font-size="32.3" text-anchor="middle">21.079</text>
<text class="rs" x="805.5" y="2116.0" font-size="32.3" text-anchor="middle">8.1878</text>
<text class="rs" x="885.0" y="2066.0" font-size="32.3" text-anchor="middle">10.1739</text>
<text class="rs" x="1000.0" y="2104.0" font-size="32.3" text-anchor="middle">8.65794</text>
<text class="rs" x="1078.5" y="1921.0" font-size="32.3" text-anchor="middle">16.014</text>
<text class="rs" x="1193.0" y="2236.0" font-size="32.3" text-anchor="middle">3.34974</text>
<text class="rs" x="1270.0" y="2093.0" font-size="32.3" text-anchor="middle">9.10231</text>
<rect x="1050.4" y="1731" width="71.5" height="34.5" fill="#fcc797" stroke="#3a3a3a" stroke-width="1"/>
<rect x="1050.4" y="1771" width="71.5" height="34.3" fill="#9dd69d" stroke="#3a3a3a" stroke-width="1"/>
<text class="rs" x="1129.0" y="1758.0" font-size="32.5">RMSE</text>
<text class="rs" x="1129.0" y="1798.5" font-size="32.5">MAPE</text>
<text class="rs" y="2472.8" font-size="58.7"><tspan x="649.5">(e)</tspan> <tspan x="737.0">RMSE and MAPE</tspan></text>
</g>
</svg>
</body>
</html>
